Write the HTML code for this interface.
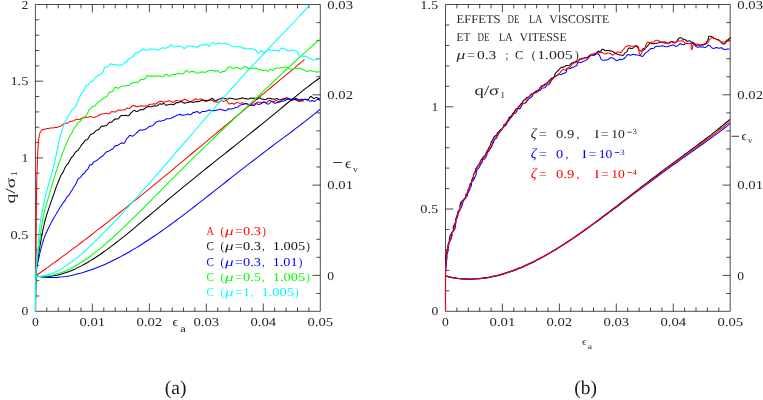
<!DOCTYPE html>
<html lang="en">
<head>
<meta charset="utf-8">
<title>Figure</title>
<style>
html,body{margin:0;padding:0;background:#fff;}
body{width:763px;height:400px;overflow:hidden;font-family:"Liberation Serif",serif;}
svg{display:block;will-change:transform;transform:translateZ(0);}
text{text-rendering:geometricPrecision;}
</style>
</head>
<body>
<svg width="763" height="400" viewBox="0 0 763 400" font-family="Liberation Serif, serif">
<rect width="763" height="400" fill="#ffffff"/>
<path d="M35.4,4.5 H320.3 V311.3 H35.4 Z M46.8,311.3 v-3.9 M46.8,4.5 v3.9 M58.2,311.3 v-3.9 M58.2,4.5 v3.9 M69.6,311.3 v-3.9 M69.6,4.5 v3.9 M81,311.3 v-3.9 M81,4.5 v3.9 M92.4,311.3 v-7.8 M92.4,4.5 v7.8 M103.8,311.3 v-3.9 M103.8,4.5 v3.9 M115.2,311.3 v-3.9 M115.2,4.5 v3.9 M126.6,311.3 v-3.9 M126.6,4.5 v3.9 M138,311.3 v-3.9 M138,4.5 v3.9 M149.4,311.3 v-7.8 M149.4,4.5 v7.8 M160.8,311.3 v-3.9 M160.8,4.5 v3.9 M172.2,311.3 v-3.9 M172.2,4.5 v3.9 M183.5,311.3 v-3.9 M183.5,4.5 v3.9 M194.9,311.3 v-3.9 M194.9,4.5 v3.9 M206.3,311.3 v-7.8 M206.3,4.5 v7.8 M217.7,311.3 v-3.9 M217.7,4.5 v3.9 M229.1,311.3 v-3.9 M229.1,4.5 v3.9 M240.5,311.3 v-3.9 M240.5,4.5 v3.9 M251.9,311.3 v-3.9 M251.9,4.5 v3.9 M263.3,311.3 v-7.8 M263.3,4.5 v7.8 M274.7,311.3 v-3.9 M274.7,4.5 v3.9 M286.1,311.3 v-3.9 M286.1,4.5 v3.9 M297.5,311.3 v-3.9 M297.5,4.5 v3.9 M308.9,311.3 v-3.9 M308.9,4.5 v3.9 M35.4,296 h3.9 M35.4,280.6 h3.9 M35.4,265.3 h3.9 M35.4,249.9 h3.9 M35.4,234.6 h7.8 M35.4,219.3 h3.9 M35.4,203.9 h3.9 M35.4,188.6 h3.9 M35.4,173.2 h3.9 M35.4,157.9 h7.8 M35.4,142.6 h3.9 M35.4,127.2 h3.9 M35.4,111.9 h3.9 M35.4,96.5 h3.9 M35.4,81.2 h7.8 M35.4,65.9 h3.9 M35.4,50.5 h3.9 M35.4,35.2 h3.9 M35.4,19.8 h3.9 M320.3,22.6 h-3.9 M320.3,40.6 h-3.9 M320.3,58.7 h-3.9 M320.3,76.7 h-3.9 M320.3,94.8 h-7.8 M320.3,112.9 h-3.9 M320.3,130.9 h-3.9 M320.3,149 h-3.9 M320.3,167 h-3.9 M320.3,185.1 h-7.8 M320.3,203.2 h-3.9 M320.3,221.2 h-3.9 M320.3,239.3 h-3.9 M320.3,257.3 h-3.9 M320.3,275.4 h-7.8 M320.3,293.5 h-3.9" fill="none" stroke="#000" stroke-width="0.7"/>
<path d="M445.5,4.5 H730.2 V311.3 H445.5 Z M456.9,311.3 v-3.9 M456.9,4.5 v3.9 M468.3,311.3 v-3.9 M468.3,4.5 v3.9 M479.7,311.3 v-3.9 M479.7,4.5 v3.9 M491.1,311.3 v-3.9 M491.1,4.5 v3.9 M502.4,311.3 v-7.8 M502.4,4.5 v7.8 M513.8,311.3 v-3.9 M513.8,4.5 v3.9 M525.2,311.3 v-3.9 M525.2,4.5 v3.9 M536.6,311.3 v-3.9 M536.6,4.5 v3.9 M548,311.3 v-3.9 M548,4.5 v3.9 M559.4,311.3 v-7.8 M559.4,4.5 v7.8 M570.8,311.3 v-3.9 M570.8,4.5 v3.9 M582.2,311.3 v-3.9 M582.2,4.5 v3.9 M593.5,311.3 v-3.9 M593.5,4.5 v3.9 M604.9,311.3 v-3.9 M604.9,4.5 v3.9 M616.3,311.3 v-7.8 M616.3,4.5 v7.8 M627.7,311.3 v-3.9 M627.7,4.5 v3.9 M639.1,311.3 v-3.9 M639.1,4.5 v3.9 M650.5,311.3 v-3.9 M650.5,4.5 v3.9 M661.9,311.3 v-3.9 M661.9,4.5 v3.9 M673.3,311.3 v-7.8 M673.3,4.5 v7.8 M684.6,311.3 v-3.9 M684.6,4.5 v3.9 M696,311.3 v-3.9 M696,4.5 v3.9 M707.4,311.3 v-3.9 M707.4,4.5 v3.9 M718.8,311.3 v-3.9 M718.8,4.5 v3.9 M445.5,290.8 h3.9 M445.5,270.4 h3.9 M445.5,249.9 h3.9 M445.5,229.5 h3.9 M445.5,209 h7.8 M445.5,188.6 h3.9 M445.5,168.1 h3.9 M445.5,147.7 h3.9 M445.5,127.2 h3.9 M445.5,106.8 h7.8 M445.5,86.3 h3.9 M445.5,65.9 h3.9 M445.5,45.4 h3.9 M445.5,25 h3.9 M730.2,22.6 h-3.9 M730.2,40.6 h-3.9 M730.2,58.7 h-3.9 M730.2,76.7 h-3.9 M730.2,94.8 h-7.8 M730.2,112.9 h-3.9 M730.2,130.9 h-3.9 M730.2,149 h-3.9 M730.2,167 h-3.9 M730.2,185.1 h-7.8 M730.2,203.2 h-3.9 M730.2,221.2 h-3.9 M730.2,239.3 h-3.9 M730.2,257.3 h-3.9 M730.2,275.4 h-7.8 M730.2,293.5 h-3.9" fill="none" stroke="#000" stroke-width="0.7"/>
<g fill="none" stroke-width="1.05" stroke-linejoin="round" stroke-linecap="butt">
<path stroke="#ff0000" d="M35.5,310.9L35.5,309.9L35.5,308.9L35.5,308L35.6,307L35.6,306L35.6,304.9L35.6,303.9L35.6,303L35.6,302L35.6,300.9L35.6,299.9L35.7,299L35.7,298L35.7,297L35.7,295.9L35.7,294.9L35.7,294L35.7,293L35.7,292L35.7,291L35.8,290L35.8,289L35.8,288L35.8,286.9L35.8,285.9L35.8,284.9L35.8,283.9L35.8,282.9L35.8,281.9L35.9,280.9L35.9,279.9L35.9,278.9L35.9,277.9L35.9,276.9L35.9,275.9L35.9,274.9L35.9,273.9L35.9,272.8L35.9,271.9L35.9,270.9L36,269.9L36,268.9L36,267.8L36,266.8L36,265.8L36,264.8L36,263.9L36,262.9L36,261.9L36,260.8L36,259.9L36,258.9L36,257.9L36,256.8L36.1,255.8L36.1,254.8L36.1,253.8L36.1,252.8L36.1,251.8L36.1,250.9L36.1,249.9L36.1,248.8L36.1,247.8L36.1,246.8L36.1,245.8L36.1,244.8L36.1,243.8L36.1,242.8L36.2,241.8L36.2,240.8L36.2,239.8L36.2,238.8L36.2,237.7L36.2,236.7L36.2,235.7L36.2,234.7L36.2,233.7L36.2,232.8L36.2,231.9L36.2,230.9L36.2,229.8L36.2,228.8L36.2,227.8L36.3,226.7L36.3,225.7L36.3,224.7L36.3,223.7L36.3,222.7L36.3,221.7L36.3,220.7L36.3,219.7L36.3,218.7L36.3,217.7L36.3,216.7L36.3,215.7L36.3,214.8L36.3,213.7L36.3,212.7L36.3,211.7L36.4,210.7L36.4,209.7L36.4,208.7L36.4,207.8L36.4,206.8L36.4,205.8L36.4,204.8L36.4,203.7L36.4,202.6L36.4,201.6L36.4,200.6L36.4,199.6L36.5,198.6L36.5,197.6L36.5,196.6L36.5,195.6L36.5,194.6L36.5,193.6L36.5,192.7L36.5,191.7L36.6,190.7L36.6,189.6L36.6,188.6L36.6,187.6L36.6,186.7L36.7,185.7L36.7,184.6L36.7,183.6L36.7,182.6L36.8,181.6L36.8,180.6L36.8,179.7L36.8,178.7L36.9,177.7L36.9,176.6L36.9,175.5L37,174.5L37,173.6L37,172.6L37.1,171.6L37.1,170.5L37.1,169.5L37.1,168.5L37.2,167.6L37.2,166.6L37.2,165.6L37.3,164.6L37.3,163.5L37.3,162.5L37.4,161.4L37.4,160.4L37.4,159.5L37.5,158.5L37.5,157.5L37.6,156.5L37.6,155.5L37.7,154.5L37.7,153.5L37.7,152.5L37.8,151.5L37.9,150.6L37.9,149.6L38,148.7L38,147.7L38.1,146.6L38.2,145.6L38.2,144.6L38.3,143.5L38.4,142.5L38.5,141.4L38.6,140.4L38.7,139.4L38.8,138.3L39,137.3L39.2,136.3L39.3,135.3L39.6,134.4L39.8,133.5L40.1,132.6L40.7,131.7L41.3,130.7L42,130L42.8,129.6L43.6,129.4L44.4,129.2L45.3,129L46.3,128.8L47.3,128.5L48.4,128.4L49.4,128.2L50.5,128.1L51.6,128L52.7,127.9L53.7,127.8L54.7,127.6L55.7,127.5L56.7,127.4L57.7,127.2L58.6,126.8L59.6,126.5L60.5,126.2L61.4,125.7L62.3,125L63.2,124.2L64.1,123.6L65,123.3L65.9,123.2L66.8,123.2L67.7,123.1L68.7,122.4L69.6,121.7L70.5,121.3L71.5,121.2L72.5,121.2L73.4,120.8L74.4,120.4L75.4,119.8L76.4,119.4L77.3,119.3L78.3,119.2L79.3,119.5L80.3,119.2L81.2,118.5L82.2,118L83.2,117.9L84.2,117.9L85.2,117.4L86.1,117.1L87.1,117.2L88.1,117.2L89.1,117L90.1,116.6L91.1,116.5L92.1,116.9L93.1,117.2L94,117.3L95,117.2L96,116.8L97,116.4L98,115.8L99,115.2L99.9,114.7L100.9,114.3L101.9,114.1L102.9,113.9L103.8,113.7L104.8,113.4L105.8,113.3L106.8,113.3L107.7,113.8L108.7,113.9L109.7,113.3L110.7,112.3L111.6,111.6L112.6,111.7L113.6,111.8L114.5,112L115.5,111.9L116.5,111.3L117.5,110.6L118.4,110L119.4,110L120.4,110.3L121.4,110.1L122.3,109.9L123.3,109.9L124.3,110L125.2,109.5L126.2,108.5L127.2,108L128.2,108.3L129.2,108.5L130.1,108L131.1,106.9L132.1,106L133.1,105.6L134.1,105.6L135.1,106L136.1,106.5L137,106.6L138,106.6L139,106.3L140,106L141,105.8L142,106L143,106.1L144,106.3L145,106L146,105.7L147,105.8L148,105.5L149,104.7L150,104.2L151,104.2L152,104.3L152.9,104L153.9,103.8L154.9,104.1L155.9,104L156.9,103.3L157.9,102.5L158.9,101.8L159.9,101.4L160.9,101.3L161.9,101.6L162.9,102.1L163.9,102.1L164.9,102L165.9,101.6L166.9,101.3L167.9,100.9L168.9,100.8L169.9,101.1L170.9,101.4L171.9,102L172.9,102.5L173.9,102L174.9,101.2L175.9,100.4L176.9,100.4L177.9,100.8L178.9,100.9L179.9,100.9L180.9,100.9L181.9,100.8L182.9,100.2L183.9,99.6L184.9,99.3L185.9,99.8L186.9,100.2L187.9,100.7L188.9,101.2L189.9,101.6L190.9,101.5L191.9,101.1L192.9,100.5L193.9,99.8L194.9,99.1L195.9,98.8L196.9,99.4L197.9,99.7L198.9,99.4L199.9,98.9L200.9,98.9L201.9,99.3L202.9,99.8L203.9,100.5L204.9,101.4L205.9,101.9L206.9,101.3L208,100.4L209,100.1L210,100.2L211,100.2L212,100.2L213,100.7L214,101.7L215,101.8L216,101.9L217,102.1L218,102.3L219,102L220,101.3L221,100.8L221.9,100.6L222.9,101.1L223.9,101.4L224.9,100.9L225.8,100.3L226.8,100.8L227.8,102.3L228.7,103.7L229.7,103.9L230.7,103.6L231.7,103.2L232.7,103.4L233.6,104.1L234.6,104L235.6,103.3L236.6,102.6L237.6,102.4L238.6,102.9L239.6,103.2L240.6,103.2L241.7,102.9L242.7,102.8L243.7,103.3L244.7,103.6L245.7,103.7L246.7,103.8L247.7,104.2L248.7,104.7L249.7,104.9L250.7,104.8L251.7,104.4L252.7,104.2L253.7,104.1L254.7,103.8L255.7,103.1L256.7,102.6L257.7,102.2L258.7,102.2L259.7,102.3L260.7,102.6L261.7,102.8L262.7,102.4L263.7,102L264.7,102.1L265.7,102.4L266.7,102.3L267.7,101.5L268.7,100.8L269.7,100.3L270.7,100.6L271.7,101.4L272.7,102L273.7,101.9L274.7,100.9L275.7,100.6L276.7,100.8L277.7,101.3L278.7,101.5L279.7,101.8L280.7,101.7L281.7,100.8L282.7,99.9L283.7,99.4L284.7,98.8L285.7,97.9L286.7,97.4L287.7,97.7L288.7,98.6L289.7,99.4L290.7,100.1L291.7,100.4L292.7,100L293.7,99.7L294.7,99.7L295.7,100L296.7,100.2L297.7,100.7L298.7,101.4L299.7,101.6L300.7,101.2L301.7,100.9L302.7,101L303.7,101.5"/>
<path stroke="#ff0000" d="M35.5,276L38.6,273.8L41.6,271.7L44.7,269.5L47.7,267.3L50.8,265.1L53.8,262.9L56.9,260.7L60,258.4L63,256.2L66.1,253.9L69.1,251.7L72.2,249.4L75.2,247.1L78.3,244.8L81.4,242.5L84.4,240.1L87.5,237.8L90.5,235.5L93.6,233.1L96.6,230.7L99.7,228.4L102.8,226L105.8,223.6L108.9,221.2L111.9,218.8L115,216.4L118,214L121.1,211.5L124.1,209.1L127.2,206.7L130.3,204.2L133.3,201.7L136.4,199.3L139.4,196.8L142.5,194.3L145.5,191.9L148.6,189.4L151.7,186.9L154.7,184.4L157.8,181.9L160.8,179.4L163.9,176.8L166.9,174.3L170,171.8L173.1,169.3L176.1,166.7L179.2,164.2L182.2,161.7L185.3,159.1L188.3,156.6L191.4,154L194.5,151.5L197.5,148.9L200.6,146.4L203.6,143.8L206.7,141.3L209.7,138.7L212.8,136.1L215.9,133.6L218.9,131L222,128.5L225,125.9L228.1,123.3L231.1,120.8L234.2,118.2L237.2,115.6L240.3,113.1L243.4,110.5L246.4,107.9L249.5,105.4L252.5,102.8L255.6,100.3L258.6,97.7L261.7,95.2L264.8,92.6L267.8,90.1L270.9,87.5L273.9,85L277,82.4L280,79.9L283.1,77.4L286.2,74.8L289.2,72.3L292.3,69.8L295.3,67.3L298.4,64.7L301.4,62.2L304.5,59.7"/>
<path stroke="#000000" d="M35.5,310.9L35.5,310L35.5,309L35.5,308L35.5,307L35.5,306L35.5,305L35.5,304L35.5,303L35.5,302L35.5,301L35.5,300L35.5,298.9L35.6,297.9L35.6,296.9L35.6,295.9L35.6,294.9L35.6,293.9L35.6,292.9L35.6,291.9L35.6,290.8L35.6,289.7L35.7,288.7L35.7,287.7L35.7,286.7L35.7,285.7L35.7,284.8L35.7,283.8L35.8,282.9L35.8,281.9L35.8,280.9L35.8,279.9L35.8,278.8L35.9,277.8L35.9,276.8L35.9,275.8L35.9,274.8L36,273.9L36.1,272.9L36.1,271.9L36.2,270.9L36.3,269.9L36.5,268.9L36.6,267.9L36.7,266.9L36.9,265.9L37,264.9L37.2,264L37.3,263L37.5,262L37.7,261.1L37.8,260.1L38,259.1L38.1,258.1L38.3,257.1L38.5,256.1L38.6,255L38.7,254L38.9,253L39,252L39.2,251L39.3,250L39.5,249L39.6,248L39.8,247L40,246L40.1,245L40.3,244.1L40.5,243.1L40.6,242.1L40.8,241.2L41,240.2L41.2,239.2L41.3,238.1L41.5,237.1L41.7,236.1L41.9,235.1L42.1,234.1L42.3,233.2L42.5,232.2L42.7,231.3L42.9,230.2L43.1,229.2L43.3,228.2L43.5,227.3L43.7,226.4L44,225.4L44.2,224.4L44.4,223.4L44.6,222.4L44.9,221.5L45.1,220.5L45.4,219.5L45.6,218.5L45.9,217.5L46.2,216.6L46.5,215.6L46.7,214.7L47.1,213.7L47.4,212.8L47.7,211.8L48,210.8L48.3,209.9L48.6,209L49,208.1L49.3,207.1L49.6,206.2L49.9,205.1L50.2,204.2L50.6,203.2L50.9,202.3L51.2,201.3L51.6,200.3L51.9,199.4L52.2,198.5L52.6,197.5L52.9,196.7L53.2,195.8L53.6,194.9L53.9,193.8L54.3,192.7L54.6,191.8L54.9,190.8L55.2,189.8L55.6,188.8L55.9,187.8L56.2,186.8L56.6,185.9L56.9,185.2L57.2,184.5L57.6,183.7L57.9,182.7L58.3,181.7L58.7,180.7L59.1,179.7L59.5,178.9L59.9,178.1L60.3,177L60.7,175.8L61.2,174.9L61.6,174.2L62.1,173.6L62.6,172.9L63.1,172.1L63.6,171L64.1,169.7L64.6,168.5L65.1,167.6L65.6,166.7L66.2,165.8L66.7,165L67.3,164.4L67.8,163.9L68.4,163.2L68.9,162.2L69.5,161.2L70,160L70.6,158.9L71.2,157.9L71.8,157.2L72.3,156.6L72.9,156.1L73.5,155.4L74.1,154.3L74.8,153.2L75.4,152.3L76,151.7L76.6,151.3L77.2,150.9L77.9,150.5L78.5,149.6L79.1,148.6L79.8,147.7L80.4,146.8L81.1,145.7L81.7,144.6L82.4,143.9L83,143.3L83.7,142.7L84.3,141.7L85,140.6L85.6,139.9L86.3,139.9L87,139.7L87.6,139.1L88.3,138.2L89,137L89.7,135.7L90.4,134.7L91.2,134.2L91.9,134.1L92.6,133.7L93.4,133.3L94.2,132.7L94.9,131.7L95.7,130.8L96.5,130.2L97.3,130.2L98.2,129.8L99,129.1L99.8,128.2L100.7,127L101.5,126.2L102.4,126.1L103.2,126.3L104.1,126L105,125.7L105.8,125.7L106.7,125.5L107.6,124.3L108.5,123.1L109.4,122.3L110.3,122.2L111.2,122.3L112.1,121.7L113,120.9L113.9,119.8L114.8,119.2L115.7,118.8L116.6,118.9L117.5,119.1L118.4,118.7L119.3,117.7L120.2,116.3L121.1,115.7L122,115.4L122.9,115.4L123.9,115.4L124.8,115.4L125.7,115.3L126.6,115.5L127.5,115.7L128.4,115.8L129.4,115.1L130.3,113.7L131.2,112.6L132.2,111.8L133.1,110.9L134.1,110.4L135.1,110.7L136,111.2L137,111.4L138,111L139,110.5L139.9,109.9L140.9,109.6L141.9,109.8L142.9,109.7L143.8,109.2L144.8,108.5L145.8,107.8L146.8,107.1L147.7,106.6L148.7,106.6L149.7,106.8L150.7,106.8L151.6,106.7L152.6,106.2L153.6,105.9L154.5,105.7L155.5,105.9L156.4,106L157.4,105.8L158.3,105L159.3,104L160.2,103.8L161.2,104.3L162.2,104.2L163.2,103.5L164.2,103.5L165.2,104.6L166.2,105.3L167.2,105L168.2,104.7L169.2,104.5L170.2,104.2L171.2,104.2L172.2,104.4L173.2,104.8L174.2,104.4L175.2,103.5L176.2,102.8L177.2,102.6L178.2,102.7L179.2,102.4L180.2,101.8L181.2,101.5L182.2,102L183.2,102.7L184.2,103.1L185.2,103.1L186.2,102.8L187.2,102.5L188.2,102.5L189.2,102.2L190.2,101.7L191.2,101.7L192.2,102.2L193.2,102.4L194.2,102L195.2,101.7L196.2,101.6L197.2,101.6L198.2,101.6L199.2,101.5L200.2,101.1L201.2,100.4L202.2,100L203.2,100.1L204.2,100.3L205.2,100.4L206.2,100.3L207.2,100.4L208.2,100.6L209.2,100.3L210.2,99.4L211.2,98.7L212.2,98.4L213.2,99L214.2,100.2L215.2,101L216.2,100.9L217.2,100L218.2,99.2L219.2,99.1L220.2,98.9L221.2,98.5L222.1,98.1L223.1,98L224.1,98.4L225.1,98.7L226.1,98.8L227.1,99L228.1,98.9L229.1,98.6L230.2,98.2L231.2,98.2L232.2,98.4L233.2,98.8L234.2,98.9L235.2,99.2L236.2,99.3L237.2,99.2L238.2,98.8L239.2,98.8L240.2,98.8L241.2,98.2L242.2,97.7L243.2,97.9L244.2,98.6L245.2,98.7L246.2,98.6L247.2,98.9L248.2,99.1L249.2,98.8L250.2,98.2L251.2,98.1L252.2,98.3L253.2,98.2L254.2,98L255.2,98.3L256.2,99L257.2,99.1L258.2,98.3L259.2,97.7L260.2,97.9L261.2,98.7L262.2,99.2L263.2,99.3L264.2,99.5L265.2,99.6L266.2,99.3L267.2,98.7L268.2,98.2L269.2,98.2L270.2,98.4L271.2,98.5L272.2,99L273.2,99.1L274.2,99.3L275.2,99.1L276.2,98.6L277.2,98.6L278.2,99.2L279.2,99.8L280.2,99.9L281.2,99.5L282.2,99.1L283.2,98.9L284.2,98.6L285.2,98.7L286.2,98.9L287.2,99.3L288.2,99.3L289.3,99L290.3,99L291.3,99.2L292.3,99.6L293.3,99.7L294.3,99.2L295.3,98.5L296.3,98.5L297.3,99.2L298.3,100L299.3,100.1L300.3,100L301.3,100.1L302.3,100.1L303.3,99.9L304.3,99.2L305.3,99.2L306.3,99.7L307.3,100.1L308.3,99.7L309.3,98.3L310.2,96.8L311.2,96.4L312.2,97.3L313.2,98.2L314.2,98.4L315.1,97.9L316.1,97.4L317.1,97.7L318.1,98.2L319,98.7L320,99.3"/>
<path stroke="#000000" d="M35.5,276L38.6,276.4L41.6,276.6L44.7,276.6L47.7,276.5L50.8,276.2L53.9,275.7L56.9,275.2L60,274.4L63,273.6L66.1,272.6L69.2,271.5L72.2,270.2L75.3,268.9L78.3,267.4L81.4,265.9L84.4,264.2L87.5,262.5L90.6,260.6L93.6,258.7L96.7,256.7L99.7,254.7L102.8,252.5L105.9,250.4L108.9,248.1L112,245.8L115,243.5L118.1,241.1L121.2,238.7L124.2,236.3L127.3,233.8L130.3,231.3L133.4,228.8L136.5,226.2L139.5,223.7L142.6,221.1L145.6,218.5L148.7,216L151.7,213.4L154.8,210.8L157.9,208.2L160.9,205.6L164,203.1L167,200.5L170.1,197.9L173.2,195.4L176.2,192.8L179.3,190.3L182.3,187.8L185.4,185.3L188.5,182.8L191.5,180.3L194.6,177.8L197.6,175.3L200.7,172.9L203.8,170.4L206.8,168L209.9,165.5L212.9,163.1L216,160.6L219,158.2L222.1,155.8L225.2,153.4L228.2,151L231.3,148.5L234.3,146.1L237.4,143.7L240.5,141.2L243.5,138.8L246.6,136.4L249.6,133.9L252.7,131.5L255.8,129L258.8,126.5L261.9,124.1L264.9,121.6L268,119.1L271.1,116.6L274.1,114.1L277.2,111.6L280.2,109.1L283.3,106.5L286.3,104L289.4,101.5L292.5,99L295.5,96.6L298.6,94.1L301.6,91.6L304.7,89.2L307.8,86.8L310.8,84.5L313.9,82.2L316.9,80L320,77.8"/>
<path stroke="#0000ff" d="M35.5,311.1L35.5,310.1L35.5,309.1L35.5,308.1L35.5,307.1L35.5,306L35.5,304.9L35.5,303.9L35.5,302.9L35.5,301.9L35.5,300.9L35.5,299.9L35.5,298.9L35.6,298L35.6,297L35.6,295.9L35.6,294.9L35.6,293.9L35.6,292.9L35.6,291.9L35.6,290.8L35.6,289.8L35.7,288.8L35.7,287.8L35.7,286.8L35.7,285.8L35.7,284.8L35.7,283.9L35.8,282.9L35.8,281.8L35.8,280.8L35.8,279.9L35.8,278.9L35.9,277.8L35.9,276.8L35.9,275.8L35.9,274.9L36,273.9L36.1,272.9L36.2,272L36.3,271L36.4,270L36.6,269L36.7,267.9L36.9,267L37.1,266L37.3,265L37.5,264L37.7,263L37.9,262L38.2,261.1L38.4,260.2L38.6,259.2L38.8,258.2L39,257.1L39.3,256.1L39.5,255.1L39.7,254.1L39.9,253.1L40.1,252.1L40.3,251.2L40.6,250.3L40.8,249.3L41.1,248.3L41.3,247.4L41.6,246.4L41.9,245.4L42.1,244.4L42.4,243.4L42.7,242.5L43,241.5L43.3,240.5L43.6,239.6L43.9,238.6L44.3,237.7L44.6,236.8L45,235.8L45.4,234.9L45.8,233.9L46.2,233.1L46.6,232.2L47,231.3L47.4,230.3L47.8,229.4L48.3,228.5L48.7,227.6L49.1,226.6L49.6,225.8L50,225L50.5,224.1L51,223.2L51.4,222.3L51.9,221.3L52.4,220.4L52.9,219.5L53.4,218.6L53.9,217.7L54.5,216.8L55,215.9L55.5,215L56,214.3L56.5,213.5L57,212.6L57.5,211.7L58.1,210.8L58.6,210L59.1,209L59.6,208.1L60.2,207.3L60.7,206.6L61.2,205.9L61.8,204.9L62.3,203.9L62.8,203.2L63.4,202.6L63.9,201.9L64.5,201.2L65,200.4L65.6,199.4L66.2,198.3L66.8,197.3L67.5,196.5L68.1,196L68.8,195.4L69.4,194.5L69.9,193.5L70.5,192.4L71,191.4L71.6,190.7L72.1,190L72.6,189.2L73.1,188.1L73.6,187.1L74.1,186.5L74.7,185.9L75.2,185L75.7,184L76.2,183L76.7,182L77.2,180.7L77.7,179.5L78.3,178.9L78.8,178.5L79.4,178.1L80,177.6L80.6,177.2L81.2,176.5L81.8,175.6L82.5,174.7L83.1,173.9L83.8,173.6L84.4,173.2L85.1,172.3L85.8,170.9L86.5,170L87.2,169.7L87.9,169L88.6,167.6L89.3,165.9L90,164.8L90.7,164.7L91.4,164.7L92.1,164.2L92.9,163.2L93.6,162.3L94.4,161.6L95.1,161.3L95.9,160.9L96.7,160.5L97.4,160L98.2,159.2L99,158.6L99.8,157.8L100.6,157.1L101.4,156.7L102.2,156.2L103,155.7L103.8,154.8L104.6,153.7L105.4,152.8L106.2,152.1L107.1,151.8L107.9,151.6L108.7,151.2L109.5,150.6L110.3,150.1L111.1,149.7L111.9,149.3L112.8,148.9L113.6,147.8L114.4,146.6L115.3,145.7L116.1,145.6L116.9,145.6L117.8,145.2L118.6,144.8L119.5,144.2L120.3,143.6L121.2,143.2L122,142.7L122.9,143L123.8,143.4L124.6,142.8L125.5,140.9L126.4,139L127.2,138.2L128.1,137.4L128.9,136.2L129.8,135.4L130.7,135.5L131.5,136L132.4,136.1L133.2,136L134.1,135.4L134.9,134.5L135.8,133.6L136.7,132.6L137.5,132.2L138.4,131.2L139.2,130.5L140.1,129.9L141,130L141.8,130.3L142.7,130L143.6,129.7L144.5,129.4L145.4,129.2L146.3,128.7L147.2,128.1L148,127.5L148.9,126.6L149.8,126.2L150.8,126.3L151.7,126L152.6,125.5L153.5,124.8L154.4,123.9L155.3,122.8L156.2,121.8L157.1,121.7L158.1,121.5L159,121.1L159.9,121L160.8,121.2L161.8,120.9L162.7,120.4L163.6,120.4L164.6,120.1L165.5,119.4L166.5,118.7L167.4,118.7L168.4,118.7L169.3,118.7L170.3,118.6L171.2,118.3L172.2,117.6L173.1,117L174.1,117L175,116.4L176,115.7L177,115.1L177.9,115L178.9,114.8L179.9,114.3L180.9,114.7L181.8,115.3L182.8,115.2L183.8,114.9L184.8,115L185.8,114.8L186.8,114.5L187.8,114.1L188.8,114.3L189.8,114.8L190.8,114.5L191.8,113.8L192.8,112.8L193.7,112.3L194.7,112.4L195.7,112.1L196.7,111.4L197.7,111.7L198.7,112.6L199.7,113.2L200.7,112.7L201.7,111.8L202.7,111.5L203.7,111.5L204.7,111.5L205.7,111.3L206.6,111L207.6,110.7L208.6,110.2L209.6,109.9L210.6,110.3L211.6,110.7L212.6,110.8L213.6,110.6L214.6,110.6L215.6,110.4L216.6,110.1L217.6,109.9L218.6,109.7L219.6,109.3L220.7,109.3L221.7,109.8L222.7,110.1L223.7,110.1L224.7,110.4L225.7,110.9L226.7,110.4L227.7,109.3L228.6,108.7L229.6,109L230.6,109.1L231.5,108.9L232.4,108.7L233.3,108.6L234.3,108.1L235.2,107.5L236.1,107.4L237.1,107.3L238,107L239,106.2L240,105.4L241,104.9L242,104.6L243,104.4L244,104.1L245,103.9L246,103.6L247,103.6L248,104.1L249,104.9L250,105.4L251,105.3L252,105.3L253,105.6L254,105.6L255,104.6L256,103.8L257,103.7L258,104.3L259,104.5L260,104.1L261,103.7L262,103L263,102.3L264,102L265,102.4L266,103.1L267,103.8L268,104.1L269,104L270,103L271,101.9L272,101.1L273,101.6L274,102.9L275,103.3L276,102.9L277,102.5L278,102.4L279,102.3L279.9,101.7L280.9,101.3L281.9,101.3L282.9,101.2L283.9,100.9L284.9,100.4L285.9,100.1L286.9,99.3L287.9,98.7L288.9,99.1L289.9,99.6L290.9,99.7L291.9,99.3L292.9,99.3L293.9,99.4L294.9,99.3L295.9,99.7L296.9,100L297.9,100.1L298.9,100.1L299.9,99.9L300.9,99.5L302,99.3L303,99.5L304,99.5L305,99.4L306,99.4L307,99.3L308,99.6L309,100.6L310,101.3L311,101L312,100.5L313,100.8L314,101.4L315,101.1L316,100.4L317,99.6L318,99.3L319,99.7L320,100.7"/>
<path stroke="#0000ff" d="M35.5,276L38.6,276.6L41.6,277L44.7,277.3L47.7,277.5L50.8,277.5L53.9,277.5L56.9,277.4L60,277.1L63,276.8L66.1,276.4L69.2,275.9L72.2,275.3L75.3,274.6L78.3,273.8L81.4,273L84.4,272.1L87.5,271.1L90.6,270.1L93.6,269L96.7,267.8L99.7,266.6L102.8,265.3L105.9,263.9L108.9,262.5L112,261L115,259.5L118.1,258L121.2,256.4L124.2,254.7L127.3,253L130.3,251.2L133.4,249.4L136.5,247.6L139.5,245.7L142.6,243.8L145.6,241.8L148.7,239.8L151.7,237.8L154.8,235.7L157.9,233.6L160.9,231.5L164,229.4L167,227.2L170.1,225L173.2,222.7L176.2,220.5L179.3,218.2L182.3,215.9L185.4,213.6L188.5,211.2L191.5,208.9L194.6,206.5L197.6,204.1L200.7,201.7L203.8,199.4L206.8,196.9L209.9,194.5L212.9,192.1L216,189.7L219,187.3L222.1,184.9L225.2,182.5L228.2,180L231.3,177.6L234.3,175.2L237.4,172.8L240.5,170.4L243.5,168.1L246.6,165.7L249.6,163.3L252.7,161L255.8,158.6L258.8,156.3L261.9,154L264.9,151.6L268,149.3L271.1,147L274.1,144.7L277.2,142.4L280.2,140.1L283.3,137.9L286.3,135.6L289.4,133.3L292.5,131L295.5,128.7L298.6,126.3L301.6,124L304.7,121.6L307.8,119.2L310.8,116.8L313.9,114.4L316.9,111.9L320,109.3"/>
<path stroke="#00ff00" d="M35.5,310.9L35.5,309.9L35.5,308.9L35.5,307.9L35.5,306.9L35.5,305.9L35.5,305L35.5,304L35.5,302.9L35.5,301.9L35.5,301L35.5,300L35.6,299L35.6,298L35.6,297L35.6,295.9L35.6,294.9L35.6,293.9L35.6,293L35.6,292L35.6,291L35.7,289.9L35.7,289L35.7,288L35.7,287L35.7,285.9L35.7,284.9L35.7,283.8L35.8,282.9L35.8,281.9L35.8,280.9L35.8,279.9L35.8,278.8L35.9,277.8L35.9,276.7L35.9,275.8L35.9,274.8L36,273.9L36,272.9L36.1,271.9L36.1,270.9L36.2,269.9L36.3,268.9L36.4,268L36.5,267L36.6,265.9L36.7,264.8L36.8,263.8L36.9,262.8L37,261.9L37.1,260.9L37.3,259.9L37.4,258.9L37.5,258L37.6,257L37.7,256L37.9,254.9L38,253.9L38.1,252.9L38.2,251.9L38.3,251L38.4,250.1L38.6,249.1L38.7,248.1L38.8,247L38.9,246L39.1,245L39.2,244L39.3,243.1L39.4,242.1L39.6,241L39.7,240L39.9,239L40,238L40.1,237L40.3,235.9L40.4,234.9L40.5,234L40.7,233L40.8,232L41,231L41.1,230L41.2,229.1L41.4,228.1L41.5,227.2L41.7,226.1L41.8,225.1L42,224.2L42.1,223.2L42.3,222.2L42.5,221.2L42.6,220.2L42.8,219.2L43,218.2L43.2,217.2L43.4,216.1L43.5,215.1L43.8,214.2L44,213.3L44.2,212.3L44.5,211.4L44.7,210.4L45,209.4L45.2,208.5L45.5,207.5L45.8,206.5L46.1,205.6L46.4,204.6L46.6,203.6L46.9,202.6L47.2,201.7L47.5,200.7L47.8,199.7L48.1,198.7L48.4,197.8L48.6,196.9L48.9,195.9L49.2,194.9L49.4,193.9L49.7,193L50,192L50.3,191L50.5,190.1L50.8,189.3L51.1,188.4L51.3,187.4L51.6,186.4L51.9,185.4L52.2,184.4L52.5,183.4L52.7,182.5L53,181.6L53.3,180.7L53.6,179.8L53.9,178.8L54.2,177.8L54.5,176.9L54.8,175.9L55.1,174.9L55.4,173.8L55.7,172.8L56,171.9L56.3,171L56.6,170.1L56.9,169.2L57.3,168.2L57.6,167.3L57.9,166.3L58.2,165.3L58.6,164.3L58.9,163.4L59.2,162.7L59.6,161.9L59.9,160.8L60.2,159.6L60.6,158.4L60.9,157.4L61.3,156.5L61.6,155.6L62,154.7L62.3,153.7L62.7,152.8L63,151.9L63.4,150.9L63.8,150L64.1,149L64.5,148.1L64.8,147.3L65.2,146.5L65.6,145.4L66,144.4L66.4,143.5L66.8,142.7L67.2,141.9L67.6,140.9L68.1,140L68.5,139L68.9,138.1L69.4,137.1L69.9,136.3L70.3,135.5L70.8,134.5L71.3,133.6L71.8,132.9L72.3,132.3L72.8,131.2L73.3,129.7L73.8,128.6L74.4,127.8L74.9,127.4L75.4,126.8L76,126L76.6,124.9L77.2,123.8L77.8,122.9L78.4,122.5L79.1,122.1L79.8,121.8L80.5,121.2L81.1,120.2L81.8,119.3L82.5,118.2L83.1,117.5L83.8,117L84.5,116.8L85.2,116.4L85.8,115.7L86.5,115L87.2,114.2L87.9,112.6L88.6,110.8L89.3,109.8L90,109.5L90.7,108.6L91.4,107.3L92.2,106.6L92.9,106.6L93.6,106.5L94.4,106.2L95.1,105.7L95.9,104.7L96.6,103.8L97.4,103.1L98.1,102.4L98.9,101.5L99.7,101L100.4,100.9L101.2,100.4L102,99.2L102.8,98.7L103.6,98.3L104.3,97.8L105.1,97.1L105.9,96.7L106.6,96.4L107.4,95.5L108.1,94.2L108.8,93.1L109.6,92.2L110.4,91.7L111.2,91.7L112,91.7L112.8,91.2L113.7,89.6L114.5,88.1L115.4,87.2L116.4,87.6L117.3,88.1L118.2,88.1L119.2,87.8L120.2,87.1L121.1,86.4L122.1,85.9L123.1,86.1L124.1,86.2L125.1,86L126.1,85.6L127,85.4L128,85.6L129,85.4L129.9,84.7L130.8,83.6L131.8,83L132.7,83.2L133.6,82.8L134.6,82.6L135.5,82.5L136.4,82.6L137.3,82.5L138.3,82L139.2,81.3L140.1,80.2L141.1,79.4L142,79.4L142.9,79.6L143.9,79.4L144.8,78.8L145.8,77.6L146.7,76.2L147.7,75.5L148.6,75.8L149.6,76.2L150.5,76.1L151.5,76.1L152.5,76.3L153.4,76.1L154.4,76.1L155.4,76.3L156.4,76.3L157.3,76L158.3,75.7L159.3,76L160.3,76.2L161.3,76.6L162.4,76.7L163.4,76.3L164.4,75.3L165.4,74.6L166.4,74.6L167.4,74.9L168.4,75.8L169.4,76.2L170.4,75.9L171.3,75.1L172.3,74.6L173.3,74.6L174.3,74.5L175.3,74.5L176.3,74.1L177.3,73.6L178.3,73.3L179.3,73.4L180.3,73.8L181.3,74L182.3,74.1L183.3,73.7L184.3,72.6L185.3,71.3L186.3,70.6L187.3,70.8L188.3,71.7L189.3,72.2L190.3,72L191.3,71.6L192.3,71.6L193.3,71.6L194.3,71.7L195.3,72.3L196.3,73.1L197.3,73.3L198.3,73L199.3,72.7L200.3,72.4L201.3,72L202.2,71.7L203.2,72L204.2,72.4L205.2,72.2L206.2,71.8L207.1,71.5L208.1,71.1L209.1,70.6L210,70.4L211,70.4L212,70.3L212.9,70.1L213.9,70.6L214.9,71.1L215.9,71.1L216.8,70.6L217.8,70.7L218.8,71.6L219.7,72.4L220.7,72.8L221.6,72.1L222.5,71.5L223.4,71.6L224.3,71.6L225.3,71L226.2,69.9L227.1,68.8L228,67.5L229,66.9L229.9,66.9L230.9,67.2L231.9,67.7L232.8,68.3L233.8,68.5L234.8,68L235.9,67.4L236.9,67.2L237.9,67.6L238.9,68.2L239.9,68.9L240.9,69.1L241.9,68.6L242.9,67.7L243.9,66.9L244.9,66.6L245.9,67L247,67.4L248,68L249,68.5L249.9,68.7L250.9,68.7L251.9,68.2L252.9,68.1L253.8,68.2L254.8,68.3L255.8,68.2L256.8,68.3L257.7,69L258.7,69.8L259.7,70L260.7,69.8L261.7,69.9L262.8,70.4L263.8,70.6L264.8,70.3L265.8,70.2L266.8,70.7L267.8,71.2L268.8,70.7L269.8,69.6L270.8,69.4L271.7,70.1L272.7,70.4L273.6,69.8L274.6,68.7L275.6,68.2L276.5,68L277.5,68.1L278.5,68.2L279.4,68L280.4,67.7L281.4,67.6L282.4,67.7L283.4,67.5L284.4,67.1L285.4,67L286.4,67.1L287.4,67.8L288.4,68.5L289.4,68.8L290.4,69.1L291.4,69.2L292.3,69.3L293.3,69.1L294.3,68.6L295.3,68.3L296.3,68.2L297.4,68.4L298.4,68.2L299.4,68L300.4,68.2L301.4,68.9L302.3,69.5L303.3,69.7L304.3,70L305.3,70.6L306.3,71.3L307.3,71.6L308.2,71.2L309.2,70.7L310.2,70.6L311.1,70.6L312.1,71L313,71.3L314,71.6L315,71.7L315.9,71.8L316.9,72.2L317.8,72L318.8,71.8L319.7,71.4"/>
<path stroke="#00ff00" d="M35.5,276L38.6,276.3L41.6,276.4L44.7,276.2L47.7,276L50.8,275.5L53.9,274.8L56.9,274L60,273.1L63,271.9L66.1,270.7L69.2,269.3L72.2,267.7L75.3,266L78.3,264.2L81.4,262.3L84.4,260.3L87.5,258.2L90.6,256L93.6,253.7L96.7,251.3L99.7,248.8L102.8,246.3L105.9,243.7L108.9,241L112,238.2L115,235.5L118.1,232.6L121.2,229.8L124.2,226.8L127.3,223.9L130.3,220.9L133.4,217.9L136.5,214.9L139.5,211.9L142.6,208.8L145.6,205.7L148.7,202.6L151.7,199.6L154.8,196.5L157.9,193.4L160.9,190.3L164,187.2L167,184.1L170.1,181L173.2,178L176.2,174.9L179.3,171.8L182.3,168.8L185.4,165.8L188.5,162.7L191.5,159.7L194.6,156.7L197.6,153.7L200.7,150.8L203.8,147.8L206.8,144.8L209.9,141.9L212.9,139L216,136L219,133.1L222.1,130.2L225.2,127.3L228.2,124.4L231.3,121.5L234.3,118.6L237.4,115.7L240.5,112.8L243.5,109.9L246.6,107.1L249.6,104.2L252.7,101.3L255.8,98.4L258.8,95.5L261.9,92.6L264.9,89.7L268,86.8L271.1,84L274.1,81.1L277.2,78.2L280.2,75.3L283.3,72.4L286.3,69.5L289.4,66.7L292.5,63.8L295.5,61L298.6,58.2L301.6,55.4L304.7,52.6L307.8,49.9L310.8,47.2L313.9,44.5L316.9,41.9L320,39.4"/>
<path stroke="#00ffff" d="M35.5,310.9L35.5,309.9L35.5,308.8L35.5,307.9L35.5,306.9L35.5,305.9L35.5,304.9L35.5,304L35.5,303L35.5,302L35.5,301L35.5,299.9L35.5,299L35.5,298L35.6,297L35.6,295.9L35.6,294.9L35.6,293.9L35.6,292.8L35.6,291.9L35.6,290.8L35.6,289.8L35.6,288.8L35.6,287.9L35.6,286.9L35.7,285.9L35.7,284.9L35.7,283.8L35.7,282.8L35.7,281.8L35.7,280.9L35.7,279.9L35.8,278.9L35.8,277.9L35.8,276.9L35.8,276L35.8,275L35.9,273.9L35.9,272.9L35.9,271.9L36,270.9L36.1,269.9L36.1,268.9L36.2,267.9L36.3,266.9L36.3,266L36.4,265L36.5,264L36.6,262.9L36.7,261.9L36.8,260.9L36.9,259.9L37,258.9L37.1,257.9L37.2,256.9L37.3,255.9L37.4,254.9L37.4,253.8L37.5,252.8L37.6,251.8L37.7,250.8L37.8,249.8L37.8,248.8L37.9,247.9L38,247L38.1,246.1L38.2,245L38.2,243.9L38.3,242.8L38.4,241.8L38.5,240.8L38.6,239.8L38.6,238.9L38.7,237.9L38.8,236.9L38.9,235.9L39,234.9L39.1,233.9L39.2,232.9L39.3,231.9L39.4,231L39.5,230L39.6,229L39.7,228L39.8,226.9L39.9,225.9L40,224.9L40.1,223.9L40.3,222.9L40.4,221.9L40.5,220.9L40.7,219.9L40.9,218.9L41,217.9L41.2,216.9L41.4,215.9L41.5,214.9L41.7,213.9L41.9,213L42.1,212L42.3,211L42.5,210L42.7,209L42.9,208.1L43.1,207.2L43.3,206.2L43.5,205.3L43.7,204.3L43.9,203.3L44.1,202.3L44.3,201.3L44.5,200.3L44.8,199.4L45,198.4L45.2,197.5L45.4,196.4L45.7,195.4L45.9,194.4L46.1,193.4L46.4,192.4L46.7,191.4L46.9,190.5L47.2,189.6L47.4,188.6L47.7,187.6L48,186.6L48.2,185.7L48.5,184.7L48.8,183.7L49.1,182.8L49.3,181.9L49.6,180.9L49.9,179.9L50.2,178.9L50.4,177.9L50.7,176.9L51,175.9L51.3,174.9L51.5,174L51.8,173.1L52.1,172.1L52.4,171.1L52.6,170.2L52.9,169.2L53.1,168.3L53.4,167.4L53.7,166.4L53.9,165.4L54.2,164.4L54.4,163.4L54.6,162.5L54.9,161.6L55.1,160.6L55.3,159.5L55.5,158.5L55.7,157.5L55.9,156.7L56.1,155.7L56.3,154.5L56.5,153.2L56.7,152.2L56.9,151.3L57.1,150.5L57.3,149.6L57.5,148.6L57.7,147.6L57.9,146.6L58.1,145.7L58.3,144.7L58.5,143.7L58.7,142.7L59,141.8L59.2,140.9L59.4,140L59.6,139L59.9,137.6L60.1,136.3L60.4,135.5L60.6,134.9L60.9,134.1L61.2,133L61.5,132L61.8,131.1L62.1,130.2L62.4,129.2L62.8,128.2L63.1,127.2L63.5,126.1L63.9,125.2L64.2,124.3L64.6,123.6L65,122.6L65.4,121.6L65.9,120.6L66.3,119.7L66.7,119L67.2,118.3L67.6,117.5L68.1,116.4L68.5,115.5L69.1,114.6L69.6,113.9L70.1,113.2L70.7,112.3L71.2,111.3L71.8,110.2L72.4,109.4L73.1,109L73.8,108.7L74.4,108.1L75.1,107.1L75.7,106.3L76.2,105.5L76.7,104.5L77.1,103.4L77.5,102.2L77.9,101.2L78.3,100.3L78.7,99.3L79.1,98.3L79.4,97.4L79.8,96.7L80.3,96L80.7,95.1L81.2,93.9L81.7,92.9L82.3,92.4L82.8,91.7L83.3,90.9L83.9,89.8L84.5,88.6L85.1,87.4L85.7,86.4L86.3,85.6L87,85.1L87.6,84.9L88.3,84.7L88.9,84L89.6,82.9L90.4,82L91.1,81.4L91.9,81.2L92.7,81L93.6,80.4L94.4,79.3L95.2,77.9L96.1,77L96.9,76.4L97.7,75.7L98.5,75.3L99.3,75.1L100.1,75L100.8,74.4L101.5,73.6L102.2,72.9L102.9,71.9L103.5,70.3L104.2,68.5L104.8,67.1L105.5,66.9L106.2,67L106.8,66.8L107.5,66.4L108.2,66.1L109,65.7L109.7,64.4L110.5,63.7L111.4,64L112.3,64.4L113.3,64.6L114.3,64.6L115.3,65L116.3,64.9L117.3,64.8L118.2,65L119.1,65L120,65.1L120.9,65.1L121.7,65.3L122.6,65L123.4,63.8L124.3,62.6L125.1,62.1L125.9,62.3L126.8,61.7L127.6,60.2L128.4,58.9L129.3,58.2L130.1,58L130.9,57.7L131.8,57.4L132.7,57L133.5,56.2L134.4,54.6L135.2,53.3L136.1,52.8L136.9,53.1L137.8,52.8L138.6,52L139.5,51.3L140.4,51.1L141.3,50.7L142.2,49.7L143.1,49.1L144.1,49.3L145,50L146,50.2L147,50.2L148.1,50L149.1,49.6L150.1,49L151.1,48.9L152.2,49.2L153.2,49.2L154.2,48.9L155.2,48.9L156.2,49.5L157.2,49.9L158.1,50.1L159.1,50L160.1,49.6L161.1,48.6L162.1,47.9L163.1,47.8L164,48.1L165,48.3L166,47.9L167,47.7L168,47.3L169,46.5L170,45.3L171,44.8L172,45.3L173,46.1L174,46.9L175.1,46.9L176.1,46.6L177,46.2L178,45.9L179,46.2L179.9,46.4L180.8,46.5L181.7,46.8L182.6,47.3L183.4,48L184.3,48.5L185.2,48.1L186.1,47.3L187,46.3L187.9,46L188.8,46L189.7,46L190.6,46L191.5,46.2L192.5,46.6L193.4,46.2L194.4,46.2L195.4,46.6L196.4,47.2L197.3,47.2L198.3,46.5L199.3,45.8L200.2,45.3L201,44.9L201.9,44.7L202.7,45.1L203.6,45.1L204.4,45L205.3,44.7L206.3,44.5L207.3,44.8L208.3,45.5L209.3,46.2L210.3,45.3L211.4,43.5L212.4,42.5L213.4,42.8L214.4,43.5L215.4,44.1L216.4,44.1L217.4,43.7L218.4,43L219.4,42.7L220.4,43.4L221.4,43.7L222.4,43.8L223.4,43.6L224.4,43.3L225.4,43.4L226.3,43.7L227.4,44.1L228.4,44.3L229.4,44.5L230.4,45.1L231.4,45.6L232.4,46.3L233.4,46.7L234.3,46.9L235.3,46.8L236.3,46.7L237.3,46.8L238.3,46.7L239.3,46.4L240.3,46.2L241.2,47.1L242.2,48L243.2,48.1L244.2,48.1L245.1,48.3L246.1,48.8L247.1,48.9L248.1,48.8L249.1,48.8L250.1,48.8L251.2,48.6L252.2,48.7L253.2,49.2L254.1,49.4L255,49.5L255.8,50.1L256.6,51.4L257.3,52.5L258,53.3L258.6,53.4L259.2,53L259.8,52L260.3,51.5L260.9,51L261.6,50.7L262.4,51.2L263.2,52.3L264.1,53.1L264.9,52.7L265.9,51.8L266.8,50.6L267.8,49.8L268.7,49.6L269.7,49.8L270.7,50.3L271.6,50.5L272.6,50.4L273.6,50.4L274.6,50.4L275.6,50.3L276.5,50.5L277.5,51.1L278.4,51.5L279.4,50.8L280.3,49.4L281.3,48.3L282.2,48L283.2,48.4L284.2,49L285.2,49.3L286.2,49.6L287.2,50.3L288.3,51.1L289.3,51.3L290.3,50.6L291.3,50.1L292.3,50.1L293.2,50.3L294.1,50.4L295,50.6L295.9,50.7L296.7,51.1L297.4,52.3L298.2,54.1L299,55.9L299.8,56.5L300.7,56.4L301.7,56.2L302.7,56.2L303.7,56.2L304.7,56L305.7,56.3L306.7,56.8L307.7,57.4L308.6,58.1L309.4,58.4L310.3,58.4L311.1,58.7L312,59.4L312.9,60L313.8,60L314.7,59.7L315.7,59.7L316.7,59.6L317.7,59.3L318.7,58.8L319.7,58.3"/>
<path stroke="#00ffff" d="M35.5,276L38.5,276.2L41.6,276L44.6,275.6L47.7,274.8L50.8,273.9L53.8,272.7L56.8,271.2L59.9,269.6L63,267.9L66,265.9L69,263.8L72.1,261.6L75.2,259.2L78.2,256.8L81.2,254.2L84.3,251.5L87.3,248.8L90.4,245.9L93.4,243.1L96.5,240.1L99.5,237.1L102.6,234L105.6,230.9L108.7,227.7L111.8,224.6L114.8,221.3L117.8,218.1L120.9,214.8L123.9,211.5L127,208.1L130.1,204.8L133.1,201.4L136.1,198L139.2,194.6L142.2,191.2L145.3,187.7L148.3,184.3L151.4,180.8L154.4,177.3L157.5,173.8L160.6,170.3L163.6,166.8L166.7,163.3L169.7,159.8L172.8,156.3L175.8,152.7L178.8,149.2L181.9,145.7L184.9,142.1L188,138.6L191,135.1L194.1,131.5L197.1,128L200.2,124.5L203.2,120.9L206.3,117.4L209.3,113.9L212.4,110.4L215.4,106.9L218.5,103.4L221.5,99.9L224.6,96.5L227.6,93L230.7,89.6L233.8,86.2L236.8,82.8L239.8,79.4L242.9,76.1L245.9,72.7L249,69.4L252,66.1L255.1,62.9L258.1,59.6L261.2,56.4L264.2,53.1L267.3,49.9L270.4,46.7L273.4,43.5L276.4,40.4L279.5,37.2L282.5,34L285.6,30.9L288.6,27.7L291.7,24.5L294.8,21.3L297.8,18L300.8,14.7L303.9,11.4L306.9,8L310,4.6"/>
<path stroke="#000000" d="M445.5,311L445.5,309.9L445.5,308.9L445.5,308L445.5,307L445.5,306L445.5,305L445.5,304L445.5,303L445.5,302L445.5,301L445.5,300L445.5,299L445.5,297.9L445.5,296.9L445.5,295.9L445.5,294.9L445.5,293.9L445.5,292.9L445.5,291.8L445.5,290.8L445.5,289.9L445.5,289L445.5,288L445.5,287L445.5,286L445.5,285L445.5,284L445.5,282.9L445.5,281.8L445.5,280.9L445.5,279.9L445.5,278.9L445.5,277.9L445.5,276.9L445.5,275.9L445.5,274.9L445.5,273.9L445.5,272.9L445.5,272L445.5,271L445.5,270L445.6,268.9L445.6,267.9L445.6,266.9L445.6,265.9L445.6,264.9L445.7,263.9L445.7,262.9L445.7,261.9L445.7,260.9L445.7,259.9L445.8,258.9L445.9,257.9L445.9,256.9L446,256L446.2,255L446.4,254L446.6,253L446.8,251.9L447,250.9L447.2,249.9L447.4,248.9L447.6,248L447.8,247L447.9,245.9L448,244.9L448.3,243.9L448.8,242.9L449.2,242L449.4,241.1L449.3,240.2L449.3,239.3L449.5,238.3L449.9,237.3L450,236.3L450.3,235.3L450.9,234.3L451.6,233.3L452,232.4L452.5,231.6L453,230.7L453.4,229.9L453.4,228.9L453.2,227.9L453.3,226.8L453.7,225.7L454.3,224.7L454.7,223.7L455.2,222.9L455.6,222L455.8,221L455.7,220.1L455.7,219.2L456.1,218.2L456.4,217.1L456.7,216.1L457.2,215.2L457.7,214.2L457.9,213.3L457.8,212.4L458.1,211.4L458.9,210.4L459.7,209.3L460,208.3L459.9,207.2L459.8,206.3L460,205.6L460.3,204.8L460.4,204L460.5,203.1L460.9,202.1L461.8,201.2L463.1,200.2L464.2,199.2L465,198L465.5,197L465.9,196.1L466.3,195.2L466.8,194.2L467.2,193.2L467.5,192.3L467.7,191.4L467.8,190.7L468.1,190.2L468.5,189.5L468.9,188.4L469.3,187.3L469.6,186.5L469.7,186.1L469.9,185.4L470.3,184.6L470.9,183.6L471.4,182.7L471.5,181.6L471.8,180.2L472.4,178.8L473.2,177.3L473.5,176.2L473.5,175.6L473.3,175.1L473.4,174.7L474,173.9L474.8,172.9L475.4,171.7L475.6,170.4L475.6,169.2L475.9,168.5L476.2,168.5L476.4,168.2L476.9,167.1L477.8,165.9L478.8,164.6L479.7,163.7L480.2,162.3L480.7,160.8L481.2,159.8L481.7,159.1L482,159.2L482.3,158.7L482.7,157.8L483.5,156.8L484.4,156L485.2,155.4L485.6,154.7L485.8,153.8L486.1,152.8L486.7,151.7L487.3,150.7L488,149.5L488.4,148.5L488.7,147.9L489.2,147.2L489.8,146.3L490.5,145.2L490.8,144L491.1,142.5L491.6,141.3L492.2,141.1L492.6,140.8L492.8,140.1L493,139.3L493.1,138.7L493.4,138L494.1,136.8L495.3,135.8L496.4,135.3L496.9,134.7L497.2,133.5L497.7,132.4L498.5,131.8L499.2,131.5L499.6,131L499.9,130.4L500.4,129.8L501.3,129.3L502.5,128.3L503.5,127L503.9,125.5L504.1,124.5L504.3,124.4L504.9,124.1L505.7,123.3L506.7,122.4L507.7,121.7L508.4,120.9L508.7,119.4L508.9,117.8L509.5,117.2L510.1,117.4L510.6,117.8L511,117.6L511.5,116.3L512.1,114.6L512.9,113.3L513.8,112.5L514.5,111.9L514.8,110.9L515.2,110L516.1,109.1L517.2,108.3L517.9,107.9L518.3,107.5L518.9,107L519.7,105.8L520.4,104.5L520.9,103.8L521.5,103.5L522.2,102.7L523,101.4L523.6,100.3L524.2,99.9L524.9,99.7L525.6,98.9L526.4,97.9L527.3,97.2L528.1,97.2L528.8,97.1L529.4,96.5L530.3,95.7L531.1,95L531.6,94.2L532.3,93.8L533.4,93.5L534.5,93.1L535.4,92.5L536.4,91.6L537.2,90.8L537.9,90.3L538.5,89.8L539.3,88.8L540.1,87.7L540.7,87.2L541.5,87L542.1,86.6L542.6,86L543.2,85.4L544.1,84.7L545.2,84L546.2,83.4L547.3,82.6L548.4,81.5L549.3,80.3L550.1,79.5L550.6,78.9L551.1,78.7L551.9,78.3L552.7,78.1L553.6,77.5L554.3,76.4L554.7,75.1L555,74L555.3,73.7L555.6,73.2L556.2,72.5L556.8,71.8L557.4,71.3L558.1,70.8L558.9,69.7L560,68.5L561,67.5L561.7,67.1L562.2,67.5L563.1,67.3L564.5,66.5L565.9,65.6L567.1,65.4L568.2,65.8L569.1,65.6L569.8,64.9L570.7,63.9L571.7,63.2L572.7,62.7L573.3,62.3L573.8,62.2L574.6,62L576,61.6L577.4,61.3L578.3,60.9L579,60.3L579.9,59.5L581.1,59L582.1,59L583,58.8L583.8,58.3L584.5,58.1L585.3,58L586.4,57.9L587.5,57.4L588.5,56.5L589.4,55.6L590.2,54.9L590.7,54.8L591.2,54.8L591.8,54.9L592.7,55.2L593.8,55L595.2,54.2L596.7,52.7L597.7,51.5L598.5,51.1L599.4,51.5L600.1,52.1L600.7,51.5L601.4,50.4L602.1,49.3L603,49.2L603.9,49.8L604.8,50.5L605.8,50.7L606.8,50.4L608,50.4L609.2,50.6L610.3,50.9L611.5,51L612.6,51.4L613.6,52L614.6,52.9L615.3,53.6L615.8,53.6L616.8,53.9L618.5,54.6L620,55.1L620.6,55L621,55.1L621.9,55.3L622.9,55.4L623.5,55L623.9,54.5L624.5,53.5L625.4,52.6L626.6,51.9L627.4,50.7L628,49.1L628.8,48.1L630.1,48.1L631.3,48.5L632.1,48.6L632.8,48.1L633.6,47.4L634.3,46.8L634.8,46.6L635.5,46.1L636.4,46.1L637.4,47.1L638.3,48.7L639.1,50.1L640,50.8L640.8,50.9L641.6,51.1L642.2,51L642.7,50.6L643.4,50L644.4,49.3L645.6,48L646.8,46.7L647.8,45.5L648.7,44.7L649.3,44L649.5,43.2L650,42.8L650.9,43L652.2,43.7L653.6,43.8L654.7,43.4L655.7,43.2L656.6,43.2L657.6,43.1L658.7,42.8L659.7,42.3L660.8,42L661.8,42L662.9,42.1L664,41.9L665,41.8L665.7,42.4L666.4,43.1L667.2,43.3L668.2,43.2L669.3,42.6L670.5,41.8L671.6,41.4L672.6,41.7L673.9,42.2L675.3,42.2L676.5,42L677.1,41.4L677.4,40.3L677.8,39.3L678.8,38.3L680.1,37.8L681.3,37.7L682.1,38.3L682.7,39.2L683.2,39.2L683.8,39.3L684.9,39.6L686.1,40.5L687.3,41.3L688.3,41.1L689.2,40.8L689.9,40.8L690.6,41.4L691.7,42.1L692.9,42.5L694,43.1L695,44.2L695.8,45.1L696.4,45.2L697,45L698,45L699.1,45.2L700.2,44.9L701.3,44.8L702.7,44.6L704.1,44.4L705.3,44.2L706.1,43.6L706.4,43L706.6,42.1L706.9,41.5L707.3,41.1L707.8,40.3L708.2,39.3L708.4,38L708.5,36.9L708.7,36.4L709.3,36.3L710.5,36.2L711.8,36.5L712.5,37.2L712.8,37.9L713.4,38.3L714.6,38.5L715.8,39L716.5,39.2L717,39.3L717.9,39.4L719.2,40.2L720.5,41.6L721.8,42.9L722.8,43.8L723.7,44.1L724.8,43.6L725.9,42.5L726.7,41.1L727.3,40.1L728,39.7L729,39L729.9,38.2L730.5,37.4"/>
<path stroke="#000000" d="M445.6,275.8L448.7,276.6L451.7,277.2L454.8,277.7L457.8,278.2L460.9,278.5L463.9,278.7L467,278.8L470.1,278.9L473.1,278.8L476.2,278.6L479.2,278.4L482.3,278.1L485.4,277.6L488.4,277.2L491.5,276.6L494.5,275.9L497.6,275.2L500.6,274.4L503.7,273.5L506.8,272.6L509.8,271.6L512.9,270.5L515.9,269.3L519,268.1L522.1,266.9L525.1,265.5L528.2,264.1L531.2,262.7L534.3,261.2L537.3,259.6L540.4,258L543.5,256.4L546.5,254.7L549.6,252.9L552.6,251.1L555.7,249.3L558.7,247.4L561.8,245.4L564.9,243.5L567.9,241.5L571,239.4L574,237.4L577.1,235.3L580.2,233.1L583.2,231L586.3,228.8L589.3,226.6L592.4,224.3L595.4,222.1L598.5,219.8L601.6,217.5L604.6,215.2L607.7,212.9L610.7,210.6L613.8,208.2L616.9,205.9L619.9,203.5L623,201.2L626,198.8L629.1,196.4L632.1,194.1L635.2,191.7L638.3,189.4L641.3,187L644.4,184.7L647.4,182.3L650.5,180L653.5,177.7L656.6,175.3L659.7,173L662.7,170.7L665.8,168.4L668.8,166.2L671.9,163.9L675,161.6L678,159.4L681.1,157.1L684.1,154.8L687.2,152.6L690.2,150.3L693.3,148.1L696.4,145.8L699.4,143.5L702.5,141.3L705.5,139L708.6,136.6L711.7,134.3L714.7,131.9L717.8,129.5L720.8,127L723.9,124.5L726.9,122L730,119.4"/>
<path stroke="#0000ff" d="M445.5,311L445.5,310L445.5,309L445.5,308L445.5,306.9L445.5,305.9L445.5,304.9L445.5,303.9L445.5,303L445.5,302.1L445.5,301.1L445.5,300L445.5,299L445.5,298L445.5,297L445.5,296L445.5,295L445.5,293.9L445.5,292.9L445.5,292L445.5,291L445.5,290L445.5,289L445.5,287.9L445.5,286.9L445.5,285.9L445.5,284.9L445.5,283.9L445.5,282.8L445.5,281.8L445.5,280.8L445.5,279.8L445.5,278.9L445.5,277.9L445.5,276.9L445.5,275.9L445.5,274.9L445.5,273.9L445.6,272.9L445.6,271.9L445.7,270.9L445.7,269.8L445.8,268.8L445.9,267.8L446,266.8L446.1,265.8L446.2,264.8L446.2,263.9L446.2,262.9L446.3,261.9L446.5,260.9L446.8,259.9L446.9,258.9L447,257.9L447,256.9L447,255.9L447,254.9L447.2,253.9L447.5,252.9L447.8,252L448,251L448,250L448.1,248.9L448.2,248L448.4,247L448.6,246.1L448.8,245.1L448.9,244L449.1,243L449.5,242L450,241L450.5,240.1L451,239.2L451.4,238.2L451.6,237.2L451.6,236.3L451.5,235.4L451.6,234.5L451.7,233.6L452.1,232.7L452.8,231.7L453.6,230.6L454.3,229.7L454.9,228.9L455.2,227.9L455.3,226.9L455.4,225.9L455.5,224.8L455.6,223.8L455.8,222.9L456.1,222.1L456,221.2L455.9,220.3L456.2,219.4L456.8,218.4L457.4,217.4L457.7,216.4L458,215.5L458.1,214.5L458.2,213.4L458.7,212.3L459.4,211.2L459.9,210.3L460,209.6L460.3,208.8L461,207.8L461.7,206.7L462,205.8L462.1,205.2L462.4,204.3L462.7,203.2L463.1,202.1L463.4,201.2L463.9,200.3L464.6,199.2L465.2,198.4L465.7,197.8L466.3,197.2L466.9,196.2L467.4,195.2L467.5,194.1L468,192.7L468.7,191.5L469.4,190.6L469.7,190L469.9,189L470.2,187.9L470.4,186.9L470.4,186.7L470.7,186.7L471.2,186.2L471.4,185.1L471.5,183.6L471.6,182.5L471.9,181.6L472.5,181.3L473.3,180.7L474,179.4L474.5,178L475,176.9L475.6,175.8L476,174.6L476.3,173.3L476.4,172.2L476.6,171.2L476.8,170.3L477,169.8L477.2,169.3L477.5,169.1L478.4,168.5L479.4,167.1L480,165.8L480.2,165L480.6,164.4L481.2,163.6L481.7,162.9L482.2,162L482.5,160.7L483,159.7L483.5,159.3L484.1,159.3L484.9,158.7L485.6,157.7L486.2,156.5L486.8,155.1L487,154L487.3,153L487.6,152.2L488.1,151.7L488.7,151.3L489.2,150.6L489.8,149.5L490.4,148.5L491,147.6L491.7,146.5L492.2,145.2L492.7,144.1L493.2,143.1L493.6,142.3L493.8,141.6L494,140.9L494.3,140.1L495,139.1L495.7,138.8L496.2,138.5L496.6,138L497.1,136.5L498.2,134.5L499.4,132.8L500,131.8L499.8,131.3L499.6,130.9L500.1,130.7L501.2,130.1L502.1,129L502.8,127.6L503.4,126.8L504.3,126.3L505.3,125.8L506.2,124.9L506.6,124.5L506.7,124L507.1,122.3L507.9,120.8L508.9,120.1L509.6,119.9L509.8,119.1L510,117.6L510.6,116.5L511.3,116.2L511.9,116L512.5,115.6L513.3,114.5L514,113.5L514.7,113.2L515.4,113.3L516.1,112.5L516.8,111L517.4,109.6L517.8,108.8L518.4,108.5L519,108.6L519.7,108.9L520.4,108.2L521.1,106.7L521.8,105.3L522.4,104.2L523,103.4L523.7,103.2L524.5,103L525.4,102.7L526.1,102.3L526.6,101.7L527.3,100.8L528.4,99.4L529.4,98.4L530.3,97.8L531.3,97.2L532.2,96.4L532.9,95L533.3,93.7L533.8,93L534.4,92.4L535,91.8L535.7,91.1L536.5,90.9L537.5,91.1L538.8,91L540.1,90.6L541,89.6L541.5,88.5L542.3,87.9L543.6,87.9L544.8,87.7L545.7,87L546.1,86.1L546.2,85.5L546.3,85.1L546.8,84.7L547.7,84.9L548.8,84.7L549.7,83.6L550.6,82L551.5,80.2L552.3,78.6L553,77.9L553.9,77.4L554.8,76.8L555.6,76L556.1,75.4L556.7,75.3L557.5,74.9L558.5,74.2L559.5,74.1L560.3,74.5L561.1,74.7L562,74.2L563.2,73.4L564.6,73L565.9,72.4L566.5,71.2L566.6,69.9L566.9,69.1L567.7,68.8L568.7,68.7L569.7,68.6L570.6,68.2L571.6,67.8L572.8,67.4L573.9,67L574.9,66.4L575.7,65.9L576.5,65.8L577.1,64.9L577.6,63.3L578.2,62.3L579,62.1L579.9,62.6L580.6,62.8L581.3,62.4L582,62L583.1,61.3L584.5,61L585.6,60.4L586.3,60L586.8,59.6L587.4,59.1L588.1,58.3L589,56.6L590.4,55.3L591.9,54.7L593.2,54.9L593.8,55.3L594.1,55.3L594.8,54.9L595.9,54.2L597,53.7L598,53.7L598.9,54.5L599.8,55.9L600.3,57.4L600.7,58.5L601.3,59.3L602.1,59.9L603.2,60.2L604.3,60.3L605.3,60.1L606.4,59.9L607.7,59.7L609.2,58.8L610.4,57.7L611.4,57.6L612,57.9L612.6,58.1L613.2,58.2L614.2,58.9L615.5,60.1L616.9,60.6L618.1,60.5L618.9,59.6L619.7,59.2L620.6,59.4L621.4,59.7L622.1,59.6L622.9,59.1L623.9,58.8L624.8,58L625.7,57L626.4,56L626.8,55.3L627.3,54.8L628,54.5L628.9,54.7L629.8,55.1L630.7,55.2L631.9,54.7L633.2,54.2L634.5,54.4L635.8,54.9L636.9,55L637.7,55.1L638.6,55.3L639.7,55.4L640.7,55.7L641.6,56.2L642.3,56.4L643.1,56.1L643.9,55.2L644.5,54.3L645.2,53.3L646,52.5L646.8,52.1L647.7,51.4L648.7,50.5L649.6,49.5L650.4,48.8L651.4,48.6L652.6,48.5L653.6,48.3L654.2,47.8L654.8,47.2L655.7,46.6L656.9,46.2L658.2,46.2L659.2,46.3L660.1,46.2L661.1,45.9L662.2,45.8L663.2,45.9L664.1,46.1L664.9,46.6L665.6,46.8L666.6,46.8L668.1,46.6L669.5,46.1L670.4,45.6L671,45.5L671.8,45.2L672.7,44.9L673.7,45.1L674.8,45.8L675.8,46.4L676.8,46.2L677.7,45.6L678.7,44.6L679.7,44L680.7,43.8L681.6,44.3L682.5,44.6L683.4,44.8L684.2,44.6L685,44L685.9,43.4L686.7,43.1L687.3,43.5L688.4,43.6L690.1,43.2L691.9,43.1L693.2,43.4L694.3,44.5L695.1,45.7L695.9,46.4L696.9,47.1L698,47.3L699,47.1L699.6,46.8L700.1,46.8L700.8,47.1L701.9,46.9L702.8,46.7L703.9,47.2L705.3,47.4L706.7,46.7L707.7,45.6L708.6,45.3L709.4,45.6L709.9,45.8L710.2,45.9L710.6,46.5L711.5,47.5L712.6,48.3L713.9,48.4L714.8,48.1L715.4,47.8L716.2,47.5L717.1,47.7L718.2,48L719.1,48.3L720.1,48L721.2,47.7L722.1,48L722.9,48.7L723.6,49.4L724.7,49.4L725.9,49.2L727.2,49.1L728.5,49L729.6,49.2"/>
<path stroke="#0000ff" d="M445.6,276.3L448.7,277L451.7,277.7L454.8,278.2L457.8,278.6L460.9,279L463.9,279.2L467,279.3L470.1,279.4L473.1,279.3L476.2,279.1L479.2,278.9L482.3,278.6L485.4,278.2L488.4,277.7L491.5,277.1L494.5,276.5L497.6,275.7L500.6,274.9L503.7,274L506.8,273.1L509.8,272.1L512.9,271L515.9,269.9L519,268.6L522.1,267.4L525.1,266L528.2,264.6L531.2,263.2L534.3,261.7L537.3,260.1L540.4,258.5L543.5,256.8L546.5,255.1L549.6,253.4L552.6,251.6L555.7,249.7L558.7,247.8L561.8,245.9L564.9,243.9L567.9,241.9L571,239.9L574,237.9L577.1,235.8L580.2,233.6L583.2,231.5L586.3,229.3L589.3,227.1L592.4,224.9L595.4,222.7L598.5,220.5L601.6,218.2L604.6,215.9L607.7,213.7L610.7,211.4L613.8,209.1L616.9,206.8L619.9,204.5L623,202.2L626,199.9L629.1,197.5L632.1,195.2L635.2,192.9L638.3,190.6L641.3,188.4L644.4,186.1L647.4,183.8L650.5,181.5L653.5,179.3L656.6,177L659.7,174.8L662.7,172.6L665.8,170.3L668.8,168.1L671.9,165.9L675,163.8L678,161.6L681.1,159.4L684.1,157.2L687.2,155.1L690.2,152.9L693.3,150.7L696.4,148.6L699.4,146.4L702.5,144.2L705.5,142.1L708.6,139.9L711.7,137.6L714.7,135.4L717.8,133.1L720.8,130.8L723.9,128.5L726.9,126.1L730,123.7"/>
<path stroke="#ff0000" d="M445.5,311L445.5,310L445.5,308.9L445.5,307.9L445.5,306.9L445.5,305.9L445.5,305L445.5,304L445.5,302.9L445.5,301.9L445.5,300.9L445.5,299.8L445.5,298.9L445.5,297.9L445.5,296.9L445.5,295.9L445.5,294.9L445.5,293.9L445.5,292.9L445.5,291.9L445.5,290.9L445.5,289.8L445.5,288.8L445.5,287.9L445.5,286.9L445.5,285.9L445.5,285L445.5,284L445.5,283.1L445.5,282L445.5,280.9L445.5,279.8L445.5,278.7L445.5,277.8L445.5,276.9L445.5,275.9L445.5,274.9L445.5,273.8L445.5,272.8L445.6,271.8L445.6,270.8L445.6,269.8L445.7,268.8L445.7,267.9L445.7,266.8L445.8,265.8L445.9,264.8L445.9,263.8L446,262.9L446,261.8L446.1,260.8L446.2,259.7L446.3,258.7L446.4,257.8L446.5,256.8L446.5,255.9L446.6,254.9L446.7,253.9L446.8,252.9L447,251.9L447.2,250.8L447.4,249.9L447.6,248.9L447.9,248L448.1,246.9L448.2,245.9L448.2,244.9L448.5,244L448.7,243.1L449,242.1L449.4,241.1L449.8,240.1L450.1,239.1L450.4,238.1L451,237.2L451.9,236.2L452.3,235.3L452,234.5L451.9,233.7L452.2,232.8L452.7,231.7L453.3,230.6L453.9,229.7L454.3,228.8L454.4,227.8L454.4,226.8L454.4,225.8L454.6,225L455.2,224.1L455.6,223.2L455.7,222.1L455.7,220.9L455.8,219.8L456,218.8L456.3,218L456.6,217.2L457.1,216.3L457.3,215.4L457.2,214.3L457.5,213.2L458,212.2L458.6,211.3L459.3,210.2L460.3,208.9L461.1,207.8L461.3,207.1L461,206.3L460.9,205.3L461.4,204.5L461.7,203.8L461.6,203L461.7,202.1L462.3,201.2L463.1,200.3L463.8,199.2L464.6,198.2L465.4,197.7L465.7,197.1L465.6,196.1L465.8,194.6L466.5,193.4L467.4,193.1L468.1,192.7L468.2,191.8L468.1,190.4L468.2,189.5L468.7,188.6L469.3,187.5L469.8,186.1L470,184.9L469.9,184.1L469.9,183.7L470.3,183.6L471.1,182.9L471.7,181.9L471.9,180.3L472.5,179.6L473.2,179.3L473.5,178.7L473.4,177L473.4,175.1L473.9,174L474.4,173.3L474.6,172.5L474.8,171.6L475.3,170.9L475.9,170.1L476.3,169.1L476.8,168L477.5,166.8L478.2,165.8L478.7,165.1L479,164.2L479.5,163.2L480.2,162L481,161.2L481.7,160.7L482.3,160.4L482.7,159.6L483.5,158.3L484.3,157.2L485,156.5L485.3,156.2L485.6,155.6L486.2,154.9L486.8,153.7L487.3,151.9L487.8,150.7L488.3,150.7L488.7,150.8L489.1,149.6L489.6,148.4L490.1,147.8L490.5,147.9L491,147.4L491.5,146L492,144.9L492.3,143.5L492.7,142.1L493.2,140.6L493.6,139.4L493.7,138.7L493.8,138.1L494.1,137.9L494.7,137.6L495.8,137L497.1,136.5L497.9,135.1L498.2,133.6L498.5,132.5L498.9,132L499.5,132L500.1,131.9L500.7,131.3L501.3,130.1L502.1,128.8L503.2,127.6L503.9,126.9L504.4,126.1L504.9,125.4L505.4,124.2L506.1,122.7L506.8,121.6L507.2,121L507.5,120.3L507.9,119.6L508.6,119.4L509.8,118.8L511.1,117.7L512,116.5L512.3,115.9L512.5,115.5L513.1,114.4L513.8,113.2L514.3,112.6L514.7,112L515.3,111.1L516.2,110.2L517.2,109.5L517.9,109L518.2,108L518.1,106.7L518.4,106L519.4,105.7L520.6,105.1L521.6,104.2L522.3,103.5L523.3,103.6L524.3,103.6L525.2,103.2L525.7,102.4L526.2,101.4L526.6,100.2L527,98.8L527.5,98L528,97.7L528.7,97.2L529.6,96.2L530.4,95.1L530.9,94.2L531.4,93.7L532.2,93.4L533.2,93L534.3,92.7L535.5,92.8L536.6,92.8L537.5,91.9L538.1,90.7L538.8,90L539.4,89.3L540,88.3L540.5,86.9L541.2,85.8L542.1,85.5L543.2,86L544.3,86L545,85.1L545.5,84L546.2,83.5L547.2,83.4L548.3,82.9L549.3,82.3L550.2,81.2L551,80.2L551.7,79.9L552.3,79.7L553,78.9L553.7,77.8L554.4,77L555.3,76.5L556.4,75.9L557.5,75.6L558.1,75.2L558.6,74.6L559.1,73.7L559.7,73L560.4,72.1L561.3,70.9L562.6,69.8L563.7,69.3L564.5,69.9L565.2,70.4L565.7,69.8L566.3,68.9L567,68.2L568,67.9L569.2,67.5L570.1,67L570.8,66.3L571.5,65.2L572.2,64.4L573,63.6L574,63L575,62.6L575.9,62.7L576.6,62.8L577.2,62L578,60.9L579,59.7L580.3,58.6L581.6,58.2L582.9,58.2L583.8,58.2L584.6,57.7L585.6,57.3L586.8,57.6L587.7,58.1L588.5,58L589.5,57L590.4,55.6L591.1,54.6L591.6,54.3L592.3,54.3L593.1,54L594,53.7L594.9,53.3L595.8,53L596.8,52.8L597.7,53L598.4,52.9L599.1,52.5L600.2,52.2L601.7,52.4L603,52.8L603.7,53.4L604.5,53.9L605.6,53.9L606.8,53.5L607.8,52.9L608.7,53L609.8,53.2L610.9,53.8L611.9,54.7L612.6,55.2L613.5,54.6L614.8,53.6L616.2,52.6L617.3,52L618.4,52L619.4,52.1L620.2,52.7L620.7,52.8L621.3,52.2L622,51L622.9,49.9L623.8,49L624.8,47.8L625.6,46.6L626.3,46.2L627,46.2L627.9,45.7L628.8,45.6L629.7,45.7L630.5,46.1L631.4,46.3L632.9,46.3L634.5,46L636,45.6L637.1,46L637.9,46.6L638.4,47.2L638.6,47.6L638.7,48.6L639,49.9L639.3,50.7L639.2,51.1L638.9,51.7L639,52.6L639.4,53.2L639.8,53.9L640.1,54.5L640.6,54.6L641.3,54.1L641.7,53.1L641.9,51.6L642.1,50L642.5,48.8L643.1,48.6L643.9,48.6L644.7,48.2L645.3,47.1L645.8,44.9L646.8,42.9L648.1,42.2L649.2,42.6L650,42.8L650.9,42.4L652,42L653.3,42L654.2,41.7L655,40.9L655.6,40.3L656.3,40.2L657.2,40.3L658.1,40.4L659.2,40.9L660.2,41.8L661.3,42.2L662.3,42.5L663.3,42.8L664.5,43.2L665.9,43.2L667,42.7L667.5,43L668.1,43.6L669,43.6L670.1,42.6L670.8,41.7L671.4,41.6L672.5,42.3L674,42.9L675.5,42.9L676.5,42L677.2,40.9L678,40.7L679.1,41.1L680.6,40.9L682,40.7L683.1,41L683.9,41.9L684.8,42.9L685.8,43.5L686.9,43.7L688.1,43.4L689.2,43.4L690.1,43.5L690.8,43.8L691.3,44L691.4,44.6L691.3,46.1L691.2,48L691.5,49.4L692,49.2L692.5,48.1L692.7,46.8L692.9,45.7L693.1,45.1L693.3,44.7L693.7,44.5L694.6,44.1L696.2,44L698,44.2L699.6,44.9L701,45.2L702,45.2L702.9,45.3L703.4,44.8L704,44L704.8,43.4L705.8,43.6L706.9,43.6L707.9,42.7L708.7,41.5L709.2,40.4L709.6,39.3L710.2,38.9L710.9,38.4L711.6,37.7L712.5,37.3L713.6,37.6L714.7,38.4L715.8,39L716.8,39.5L717.7,40L718.8,40.4L719.8,41L720.6,41.7L721.2,42L722.1,42.1L723.6,42L725,41.9L726,41.1L726.5,40.1L726.9,40.2L727.4,41.2L728.3,41.4L729.6,40"/>
<path stroke="#ff0000" d="M445.6,276L448.7,276.8L451.7,277.4L454.8,277.9L457.8,278.4L460.9,278.7L463.9,278.9L467,279L470.1,279.1L473.1,279L476.2,278.8L479.2,278.6L482.3,278.3L485.4,277.9L488.4,277.4L491.5,276.8L494.5,276.1L497.6,275.4L500.6,274.6L503.7,273.7L506.8,272.8L509.8,271.8L512.9,270.7L515.9,269.5L519,268.3L522.1,267.1L525.1,265.7L528.2,264.3L531.2,262.9L534.3,261.4L537.3,259.8L540.4,258.2L543.5,256.5L546.5,254.8L549.6,253.1L552.6,251.3L555.7,249.4L558.7,247.5L561.8,245.6L564.9,243.7L567.9,241.7L571,239.6L574,237.6L577.1,235.5L580.2,233.3L583.2,231.2L586.3,229L589.3,226.8L592.4,224.6L595.4,222.4L598.5,220.1L601.6,217.9L604.6,215.6L607.7,213.3L610.7,211L613.8,208.7L616.9,206.3L619.9,204L623,201.7L626,199.4L629.1,197L632.1,194.7L635.2,192.4L638.3,190L641.3,187.7L644.4,185.4L647.4,183.1L650.5,180.8L653.5,178.5L656.6,176.2L659.7,174L662.7,171.7L665.8,169.4L668.8,167.2L671.9,165L675,162.7L678,160.5L681.1,158.3L684.1,156.1L687.2,153.9L690.2,151.6L693.3,149.4L696.4,147.2L699.4,145L702.5,142.8L705.5,140.5L708.6,138.3L711.7,136L714.7,133.7L717.8,131.4L720.8,129L723.9,126.6L726.9,124.2L730,121.7"/>
</g>
<text x="32" y="326.4" font-size="12" text-anchor="start" fill="#262626" textLength="6.8" lengthAdjust="spacingAndGlyphs">0</text>
<text x="442.1" y="326.4" font-size="12" text-anchor="start" fill="#262626" textLength="6.8" lengthAdjust="spacingAndGlyphs">0</text>
<text x="79.5" y="326.4" font-size="12" text-anchor="start" fill="#262626" textLength="25.7" lengthAdjust="spacingAndGlyphs">0.01</text>
<text x="489.6" y="326.4" font-size="12" text-anchor="start" fill="#262626" textLength="25.7" lengthAdjust="spacingAndGlyphs">0.01</text>
<text x="136.5" y="326.4" font-size="12" text-anchor="start" fill="#262626" textLength="25.7" lengthAdjust="spacingAndGlyphs">0.02</text>
<text x="546.5" y="326.4" font-size="12" text-anchor="start" fill="#262626" textLength="25.7" lengthAdjust="spacingAndGlyphs">0.02</text>
<text x="193.5" y="326.4" font-size="12" text-anchor="start" fill="#262626" textLength="25.7" lengthAdjust="spacingAndGlyphs">0.03</text>
<text x="603.5" y="326.4" font-size="12" text-anchor="start" fill="#262626" textLength="25.7" lengthAdjust="spacingAndGlyphs">0.03</text>
<text x="250.5" y="326.4" font-size="12" text-anchor="start" fill="#262626" textLength="25.7" lengthAdjust="spacingAndGlyphs">0.04</text>
<text x="660.4" y="326.4" font-size="12" text-anchor="start" fill="#262626" textLength="25.7" lengthAdjust="spacingAndGlyphs">0.04</text>
<text x="307.4" y="326.4" font-size="12" text-anchor="start" fill="#262626" textLength="25.7" lengthAdjust="spacingAndGlyphs">0.05</text>
<text x="717.4" y="326.4" font-size="12" text-anchor="start" fill="#262626" textLength="25.7" lengthAdjust="spacingAndGlyphs">0.05</text>
<text x="21.6" y="315.3" font-size="12" text-anchor="start" fill="#262626" textLength="6.8" lengthAdjust="spacingAndGlyphs">0</text>
<text x="10.4" y="238.6" font-size="12" text-anchor="start" fill="#262626" textLength="18" lengthAdjust="spacingAndGlyphs">0.5</text>
<text x="21.6" y="161.9" font-size="12" text-anchor="start" fill="#262626" textLength="6.8" lengthAdjust="spacingAndGlyphs">1</text>
<text x="10.4" y="85.2" font-size="12" text-anchor="start" fill="#262626" textLength="18" lengthAdjust="spacingAndGlyphs">1.5</text>
<text x="21.6" y="8.5" font-size="12" text-anchor="start" fill="#262626" textLength="6.8" lengthAdjust="spacingAndGlyphs">2</text>
<text x="431.4" y="315.3" font-size="12" text-anchor="start" fill="#262626" textLength="6.8" lengthAdjust="spacingAndGlyphs">0</text>
<text x="420.2" y="213" font-size="12" text-anchor="start" fill="#262626" textLength="18" lengthAdjust="spacingAndGlyphs">0.5</text>
<text x="431.4" y="110.8" font-size="12" text-anchor="start" fill="#262626" textLength="6.8" lengthAdjust="spacingAndGlyphs">1</text>
<text x="420.2" y="8.5" font-size="12" text-anchor="start" fill="#262626" textLength="18" lengthAdjust="spacingAndGlyphs">1.5</text>
<text x="327.3" y="279.6" font-size="12" text-anchor="start" fill="#262626" textLength="6.8" lengthAdjust="spacingAndGlyphs">0</text>
<text x="737.3" y="279.6" font-size="12" text-anchor="start" fill="#262626" textLength="6.8" lengthAdjust="spacingAndGlyphs">0</text>
<text x="327.3" y="189.3" font-size="12" text-anchor="start" fill="#262626" textLength="25.7" lengthAdjust="spacingAndGlyphs">0.01</text>
<text x="737.3" y="189.3" font-size="12" text-anchor="start" fill="#262626" textLength="25.7" lengthAdjust="spacingAndGlyphs">0.01</text>
<text x="327.3" y="99" font-size="12" text-anchor="start" fill="#262626" textLength="25.7" lengthAdjust="spacingAndGlyphs">0.02</text>
<text x="737.3" y="99" font-size="12" text-anchor="start" fill="#262626" textLength="25.7" lengthAdjust="spacingAndGlyphs">0.02</text>
<text x="327.3" y="8.7" font-size="12" text-anchor="start" fill="#262626" textLength="25.7" lengthAdjust="spacingAndGlyphs">0.03</text>
<text x="737.3" y="8.7" font-size="12" text-anchor="start" fill="#262626" textLength="25.7" lengthAdjust="spacingAndGlyphs">0.03</text>
<text x="172.6" y="326.4" font-size="13" text-anchor="start" fill="#262626" textLength="5.6" lengthAdjust="spacingAndGlyphs">&#x3f5;</text>
<text x="180.2" y="331.8" font-size="10" text-anchor="start" fill="#262626" textLength="5.6" lengthAdjust="spacingAndGlyphs">a</text>
<text x="582" y="345" font-size="9.9" text-anchor="start" fill="#262626" textLength="4.3" lengthAdjust="spacingAndGlyphs">&#x3f5;</text>
<text x="587.8" y="349.1" font-size="7.6" text-anchor="start" fill="#262626" textLength="4.3" lengthAdjust="spacingAndGlyphs">a</text>
<path d="M333.2,162.5 h9" stroke="#262626" stroke-width="0.9" fill="none"/>
<text x="344.9" y="167.8" font-size="14" text-anchor="start" fill="#262626" textLength="6.4" lengthAdjust="spacingAndGlyphs">&#x3f5;</text>
<text x="352.9" y="172.2" font-size="9" text-anchor="start" fill="#262626" textLength="4.8" lengthAdjust="spacingAndGlyphs">v</text>
<path d="M731.6,136.3 h7.6" stroke="#262626" stroke-width="0.9" fill="none"/>
<text x="741.6" y="140.2" font-size="12" text-anchor="start" fill="#262626" textLength="5.2" lengthAdjust="spacingAndGlyphs">&#x3f5;</text>
<text x="747.9" y="143.2" font-size="8" text-anchor="start" fill="#262626" textLength="4.4" lengthAdjust="spacingAndGlyphs">v</text>
<g transform="translate(14.6,203.6) rotate(-90)"><text x="0" y="0" font-size="14" fill="#262626" textLength="26" lengthAdjust="spacingAndGlyphs">q/&#x3c3;</text><text x="27.6" y="2.8" font-size="9" fill="#262626">1</text></g>
<text x="206.4" y="234.8" font-size="12" text-anchor="start" fill="#ff0000" textLength="7.4" lengthAdjust="spacingAndGlyphs">A</text>
<text x="220.4" y="234.8" font-size="12" text-anchor="start" fill="#ff0000" textLength="3.6" lengthAdjust="spacingAndGlyphs">(</text>
<text x="225" y="234.8" font-size="12" text-anchor="start" fill="#ff0000" textLength="8.6" lengthAdjust="spacingAndGlyphs" font-style="italic">&#x3bc;</text>
<text x="235" y="234.8" font-size="12" text-anchor="start" fill="#ff0000" textLength="7.8" lengthAdjust="spacingAndGlyphs">=</text>
<text x="243" y="234.8" font-size="12" text-anchor="start" fill="#ff0000" textLength="18" lengthAdjust="spacingAndGlyphs">0.3</text>
<text x="262.2" y="234.8" font-size="12" text-anchor="start" fill="#ff0000" textLength="3.6" lengthAdjust="spacingAndGlyphs">)</text>
<text x="206.4" y="250.4" font-size="12" text-anchor="start" fill="#111111" textLength="7.4" lengthAdjust="spacingAndGlyphs">C</text>
<text x="220.4" y="250.4" font-size="12" text-anchor="start" fill="#111111" textLength="3.6" lengthAdjust="spacingAndGlyphs">(</text>
<text x="225" y="250.4" font-size="12" text-anchor="start" fill="#111111" textLength="8.6" lengthAdjust="spacingAndGlyphs" font-style="italic">&#x3bc;</text>
<text x="235" y="250.4" font-size="12" text-anchor="start" fill="#111111" textLength="7.8" lengthAdjust="spacingAndGlyphs">=</text>
<text x="243" y="250.4" font-size="12" text-anchor="start" fill="#111111" textLength="18" lengthAdjust="spacingAndGlyphs">0.3</text>
<text x="261.9" y="250.4" font-size="12" text-anchor="start" fill="#111111" textLength="2.6" lengthAdjust="spacingAndGlyphs">,</text>
<text x="272.7" y="250.4" font-size="12" text-anchor="start" fill="#111111" textLength="32.4" lengthAdjust="spacingAndGlyphs">1.005</text>
<text x="306.3" y="250.4" font-size="12" text-anchor="start" fill="#111111" textLength="3.6" lengthAdjust="spacingAndGlyphs">)</text>
<text x="206.4" y="265.6" font-size="12" text-anchor="start" fill="#0000ff" textLength="7.4" lengthAdjust="spacingAndGlyphs">C</text>
<text x="220.4" y="265.6" font-size="12" text-anchor="start" fill="#0000ff" textLength="3.6" lengthAdjust="spacingAndGlyphs">(</text>
<text x="225" y="265.6" font-size="12" text-anchor="start" fill="#0000ff" textLength="8.6" lengthAdjust="spacingAndGlyphs" font-style="italic">&#x3bc;</text>
<text x="235" y="265.6" font-size="12" text-anchor="start" fill="#0000ff" textLength="7.8" lengthAdjust="spacingAndGlyphs">=</text>
<text x="243" y="265.6" font-size="12" text-anchor="start" fill="#0000ff" textLength="18" lengthAdjust="spacingAndGlyphs">0.3</text>
<text x="261.9" y="265.6" font-size="12" text-anchor="start" fill="#0000ff" textLength="2.6" lengthAdjust="spacingAndGlyphs">,</text>
<text x="272.7" y="265.6" font-size="12" text-anchor="start" fill="#0000ff" textLength="24.9" lengthAdjust="spacingAndGlyphs">1.01</text>
<text x="298.8" y="265.6" font-size="12" text-anchor="start" fill="#0000ff" textLength="3.6" lengthAdjust="spacingAndGlyphs">)</text>
<text x="206.4" y="280.6" font-size="12" text-anchor="start" fill="#00ff00" textLength="7.4" lengthAdjust="spacingAndGlyphs">C</text>
<text x="220.4" y="280.6" font-size="12" text-anchor="start" fill="#00ff00" textLength="3.6" lengthAdjust="spacingAndGlyphs">(</text>
<text x="225" y="280.6" font-size="12" text-anchor="start" fill="#00ff00" textLength="8.6" lengthAdjust="spacingAndGlyphs" font-style="italic">&#x3bc;</text>
<text x="235" y="280.6" font-size="12" text-anchor="start" fill="#00ff00" textLength="7.8" lengthAdjust="spacingAndGlyphs">=</text>
<text x="243" y="280.6" font-size="12" text-anchor="start" fill="#00ff00" textLength="18" lengthAdjust="spacingAndGlyphs">0.5</text>
<text x="261.9" y="280.6" font-size="12" text-anchor="start" fill="#00ff00" textLength="2.6" lengthAdjust="spacingAndGlyphs">,</text>
<text x="272.7" y="280.6" font-size="12" text-anchor="start" fill="#00ff00" textLength="32.4" lengthAdjust="spacingAndGlyphs">1.005</text>
<text x="306.3" y="280.6" font-size="12" text-anchor="start" fill="#00ff00" textLength="3.6" lengthAdjust="spacingAndGlyphs">)</text>
<text x="206.4" y="296.2" font-size="12" text-anchor="start" fill="#00ffff" textLength="7.4" lengthAdjust="spacingAndGlyphs">C</text>
<text x="220.4" y="296.2" font-size="12" text-anchor="start" fill="#00ffff" textLength="3.6" lengthAdjust="spacingAndGlyphs">(</text>
<text x="225" y="296.2" font-size="12" text-anchor="start" fill="#00ffff" textLength="8.6" lengthAdjust="spacingAndGlyphs" font-style="italic">&#x3bc;</text>
<text x="235" y="296.2" font-size="12" text-anchor="start" fill="#00ffff" textLength="7.8" lengthAdjust="spacingAndGlyphs">=</text>
<text x="243" y="296.2" font-size="12" text-anchor="start" fill="#00ffff" textLength="6.8" lengthAdjust="spacingAndGlyphs">1</text>
<text x="250.7" y="296.2" font-size="12" text-anchor="start" fill="#00ffff" textLength="2.6" lengthAdjust="spacingAndGlyphs">,</text>
<text x="261.5" y="296.2" font-size="12" text-anchor="start" fill="#00ffff" textLength="32.4" lengthAdjust="spacingAndGlyphs">1.005</text>
<text x="295.1" y="296.2" font-size="12" text-anchor="start" fill="#00ffff" textLength="3.6" lengthAdjust="spacingAndGlyphs">)</text>
<text x="456.6" y="22.9" font-size="12" text-anchor="start" fill="#262626" textLength="44" lengthAdjust="spacingAndGlyphs">EFFETS</text>
<text x="507.5" y="22.9" font-size="12" text-anchor="start" fill="#262626" textLength="11.9" lengthAdjust="spacingAndGlyphs">DE</text>
<text x="528.9" y="22.9" font-size="12" text-anchor="start" fill="#262626" textLength="13.6" lengthAdjust="spacingAndGlyphs">LA</text>
<text x="549.2" y="22.9" font-size="12" text-anchor="start" fill="#262626" textLength="60" lengthAdjust="spacingAndGlyphs">VISCOSITE</text>
<text x="456.6" y="40.7" font-size="12" text-anchor="start" fill="#262626" textLength="13.6" lengthAdjust="spacingAndGlyphs">ET</text>
<text x="477.5" y="40.7" font-size="12" text-anchor="start" fill="#262626" textLength="12" lengthAdjust="spacingAndGlyphs">DE</text>
<text x="499" y="40.7" font-size="12" text-anchor="start" fill="#262626" textLength="13.5" lengthAdjust="spacingAndGlyphs">LA</text>
<text x="519.4" y="40.7" font-size="12" text-anchor="start" fill="#262626" textLength="47.2" lengthAdjust="spacingAndGlyphs">VITESSE</text>
<text x="456.6" y="58.6" font-size="13" text-anchor="start" fill="#262626" textLength="8.8" lengthAdjust="spacingAndGlyphs" font-style="italic">&#x3bc;</text>
<text x="467" y="58.6" font-size="12" text-anchor="start" fill="#262626" textLength="8" lengthAdjust="spacingAndGlyphs">=</text>
<text x="476.9" y="58.6" font-size="12" text-anchor="start" fill="#262626" textLength="19.4" lengthAdjust="spacingAndGlyphs">0.3</text>
<text x="505.4" y="58.6" font-size="12" text-anchor="start" fill="#262626" textLength="2.8" lengthAdjust="spacingAndGlyphs">;</text>
<text x="515" y="58.6" font-size="12" text-anchor="start" fill="#262626" textLength="8.2" lengthAdjust="spacingAndGlyphs">C</text>
<text x="531.8" y="58.6" font-size="12" text-anchor="start" fill="#262626" textLength="3.8" lengthAdjust="spacingAndGlyphs">(</text>
<text x="537.2" y="58.6" font-size="12" text-anchor="start" fill="#262626" textLength="35.6" lengthAdjust="spacingAndGlyphs">1.005</text>
<text x="575" y="58.6" font-size="12" text-anchor="start" fill="#262626" textLength="3.8" lengthAdjust="spacingAndGlyphs">)</text>
<text x="474.6" y="95" font-size="14" text-anchor="start" fill="#262626" textLength="24.6" lengthAdjust="spacingAndGlyphs">q/&#x3c3;</text>
<text x="500.4" y="98" font-size="9" text-anchor="start" fill="#262626">1</text>
<text x="530.8" y="137.6" font-size="14" text-anchor="start" fill="#262626" textLength="5.8" lengthAdjust="spacingAndGlyphs" font-style="italic">&#x3b6;</text>
<text x="538.8" y="137.6" font-size="12" text-anchor="start" fill="#262626" textLength="8" lengthAdjust="spacingAndGlyphs">=</text>
<text x="556" y="137.6" font-size="12" text-anchor="start" fill="#262626" textLength="18.2" lengthAdjust="spacingAndGlyphs">0.9</text>
<text x="576.6" y="137.6" font-size="12" text-anchor="start" fill="#262626" textLength="2.8" lengthAdjust="spacingAndGlyphs">,</text>
<text x="594.4" y="137.6" font-size="12" text-anchor="start" fill="#262626" textLength="4.8" lengthAdjust="spacingAndGlyphs">I</text>
<text x="600.8" y="137.6" font-size="12" text-anchor="start" fill="#262626" textLength="8" lengthAdjust="spacingAndGlyphs">=</text>
<text x="611.2" y="137.6" font-size="12" text-anchor="start" fill="#262626" textLength="13.6" lengthAdjust="spacingAndGlyphs">10</text>
<path d="M627.3,132.2 h4.4" stroke="#262626" stroke-width="0.8" fill="none"/>
<text x="632.6" y="134.4" font-size="8" text-anchor="start" fill="#262626" textLength="4.4" lengthAdjust="spacingAndGlyphs">3</text>
<text x="530.8" y="157.9" font-size="14" text-anchor="start" fill="#0000ff" textLength="5.8" lengthAdjust="spacingAndGlyphs" font-style="italic">&#x3b6;</text>
<text x="538.8" y="157.9" font-size="12" text-anchor="start" fill="#0000ff" textLength="8" lengthAdjust="spacingAndGlyphs">=</text>
<text x="556" y="157.9" font-size="12" text-anchor="start" fill="#0000ff" textLength="7.2" lengthAdjust="spacingAndGlyphs">0</text>
<text x="565.6" y="157.9" font-size="12" text-anchor="start" fill="#0000ff" textLength="2.8" lengthAdjust="spacingAndGlyphs">,</text>
<text x="582" y="157.9" font-size="12" text-anchor="start" fill="#0000ff" textLength="4.8" lengthAdjust="spacingAndGlyphs">I</text>
<text x="588.4" y="157.9" font-size="12" text-anchor="start" fill="#0000ff" textLength="8" lengthAdjust="spacingAndGlyphs">=</text>
<text x="598.8" y="157.9" font-size="12" text-anchor="start" fill="#0000ff" textLength="13.6" lengthAdjust="spacingAndGlyphs">10</text>
<path d="M614.9,152.5 h4.4" stroke="#0000ff" stroke-width="0.8" fill="none"/>
<text x="620.2" y="154.7" font-size="8" text-anchor="start" fill="#0000ff" textLength="4.4" lengthAdjust="spacingAndGlyphs">3</text>
<text x="530.8" y="177.9" font-size="14" text-anchor="start" fill="#ff0000" textLength="5.8" lengthAdjust="spacingAndGlyphs" font-style="italic">&#x3b6;</text>
<text x="538.8" y="177.9" font-size="12" text-anchor="start" fill="#ff0000" textLength="8" lengthAdjust="spacingAndGlyphs">=</text>
<text x="556" y="177.9" font-size="12" text-anchor="start" fill="#ff0000" textLength="18.2" lengthAdjust="spacingAndGlyphs">0.9</text>
<text x="576.6" y="177.9" font-size="12" text-anchor="start" fill="#ff0000" textLength="2.8" lengthAdjust="spacingAndGlyphs">,</text>
<text x="594.4" y="177.9" font-size="12" text-anchor="start" fill="#ff0000" textLength="4.8" lengthAdjust="spacingAndGlyphs">I</text>
<text x="600.8" y="177.9" font-size="12" text-anchor="start" fill="#ff0000" textLength="8" lengthAdjust="spacingAndGlyphs">=</text>
<text x="611.2" y="177.9" font-size="12" text-anchor="start" fill="#ff0000" textLength="13.6" lengthAdjust="spacingAndGlyphs">10</text>
<path d="M627.3,172.5 h4.4" stroke="#ff0000" stroke-width="0.8" fill="none"/>
<text x="632.6" y="174.7" font-size="8" text-anchor="start" fill="#ff0000" textLength="4.4" lengthAdjust="spacingAndGlyphs">4</text>
<text x="175.7" y="394.4" font-size="19.5" text-anchor="middle" fill="#1a1a1a">(a)</text>
<text x="585.7" y="394.4" font-size="19.5" text-anchor="middle" fill="#1a1a1a">(b)</text>
</svg>
</body>
</html>
